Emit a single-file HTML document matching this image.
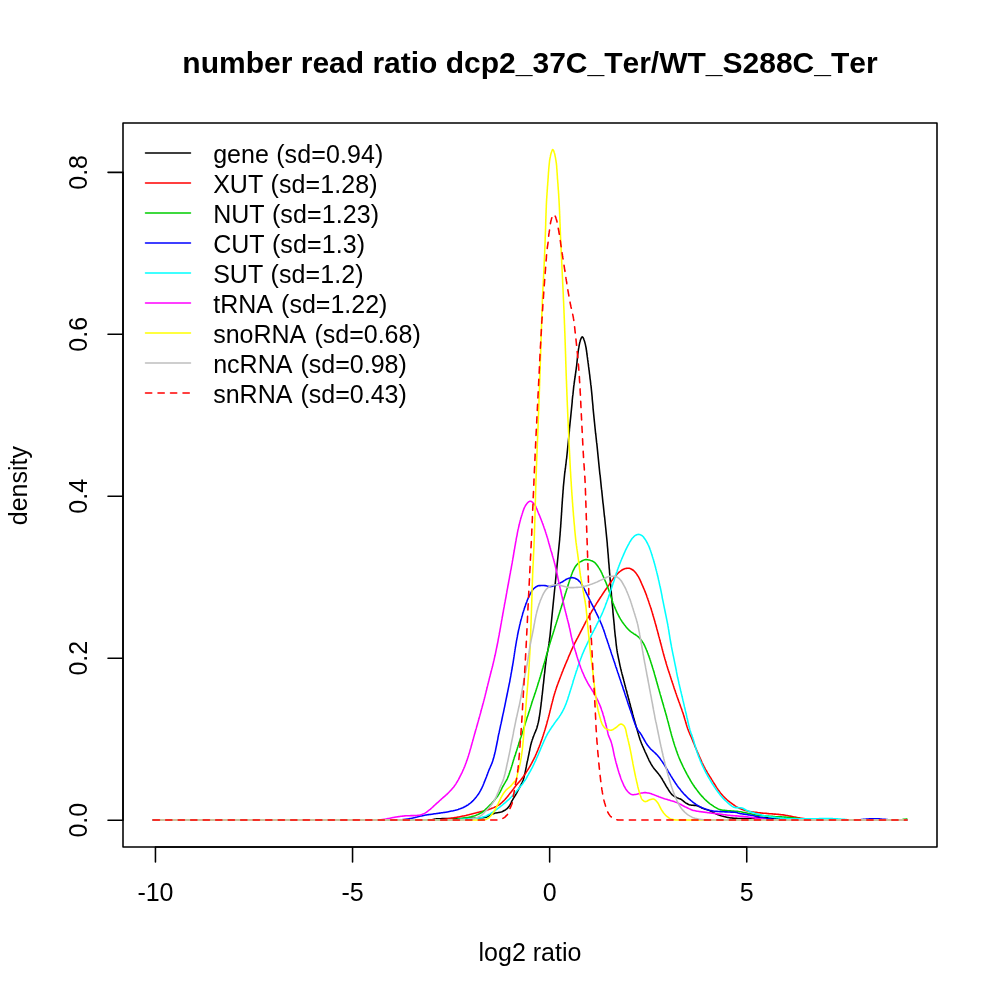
<!DOCTYPE html>
<html lang="en"><head><meta charset="utf-8"><title>number read ratio dcp2_37C_Ter/WT_S288C_Ter</title>
<style>html,body{margin:0;padding:0;background:#fff}body{width:1000px;height:1000px;overflow:hidden}</style></head>
<body>
<svg width="1000" height="1000" viewBox="0 0 1000 1000" style="display:block">
<rect width="1000" height="1000" fill="#fff"/>
<g fill="none" stroke-width="1.56" stroke-linecap="round" stroke-linejoin="round">
<path stroke="#000000" d="M153.2,820.0 L430.1,820.0 L431.1,819.9 L432.1,819.8 L433.1,819.5 L434.1,819.3 L435.1,819.1 L436.1,818.9 L437.0,818.8 L438.0,818.8 L439.0,818.7 L440.0,818.7 L441.0,818.7 L442.0,818.6 L443.0,818.6 L444.0,818.6 L445.0,818.6 L446.0,818.6 L447.0,818.6 L448.0,818.6 L449.0,818.6 L450.0,818.6 L451.0,818.6 L452.0,818.6 L453.0,818.6 L454.0,818.6 L455.0,818.6 L456.0,818.6 L457.0,818.6 L458.0,818.6 L459.0,818.5 L460.0,818.5 L461.0,818.5 L462.0,818.5 L463.0,818.5 L464.0,818.4 L465.0,818.4 L466.0,818.4 L467.0,818.4 L468.0,818.4 L469.0,818.3 L470.0,818.3 L471.0,818.3 L472.1,818.2 L473.1,818.2 L474.1,818.2 L475.1,818.1 L476.1,818.1 L477.1,818.0 L478.1,818.0 L479.1,817.9 L480.1,817.9 L481.1,817.8 L482.1,817.7 L483.1,817.6 L484.1,817.5 L485.0,817.4 L486.0,817.2 L486.9,816.9 L487.8,816.5 L488.7,816.0 L489.6,815.5 L490.5,815.0 L491.4,814.5 L492.3,814.1 L493.2,813.7 L494.2,813.4 L495.1,813.1 L496.1,812.9 L497.1,812.7 L498.1,812.6 L499.1,812.4 L500.1,812.2 L501.0,812.0 L502.0,811.7 L502.9,811.3 L503.8,810.8 L504.7,810.3 L505.5,809.8 L506.3,809.2 L507.1,808.6 L507.8,807.9 L508.5,807.1 L509.1,806.3 L509.7,805.5 L510.2,804.7 L510.6,803.8 L511.1,802.9 L511.5,801.9 L511.9,801.0 L512.4,800.2 L512.9,799.3 L513.4,798.4 L513.9,797.6 L514.5,796.7 L515.0,795.9 L515.5,795.0 L516.0,794.1 L516.5,793.3 L517.0,792.4 L517.4,791.5 L517.9,790.6 L518.4,789.8 L518.8,788.9 L519.3,788.0 L519.8,787.1 L520.2,786.2 L520.7,785.3 L521.2,784.4 L521.6,783.5 L522.1,782.6 L522.5,781.7 L522.9,780.8 L523.2,779.9 L523.5,778.9 L523.8,778.0 L524.1,777.0 L524.3,776.0 L524.5,775.1 L524.7,774.1 L525.0,773.1 L525.2,772.1 L525.4,771.1 L525.6,770.2 L525.8,769.2 L526.0,768.2 L526.2,767.2 L526.4,766.2 L526.5,765.3 L526.7,764.3 L526.9,763.3 L527.1,762.3 L527.3,761.3 L527.6,760.4 L527.8,759.4 L528.0,758.4 L528.2,757.4 L528.4,756.4 L528.6,755.5 L528.8,754.5 L529.0,753.5 L529.2,752.5 L529.4,751.5 L529.6,750.6 L529.8,749.6 L529.9,748.6 L530.2,747.6 L530.4,746.6 L530.6,745.7 L530.8,744.7 L531.1,743.7 L531.4,742.8 L531.6,741.8 L531.9,740.9 L532.2,739.9 L532.6,739.0 L532.9,738.0 L533.2,737.1 L533.6,736.1 L533.9,735.2 L534.3,734.3 L534.7,733.3 L535.1,732.4 L535.5,731.5 L535.9,730.6 L536.2,729.6 L536.6,728.7 L536.9,727.8 L537.2,726.8 L537.4,725.8 L537.7,724.9 L537.9,723.9 L538.2,722.9 L538.4,722.0 L538.6,721.0 L538.8,720.0 L539.0,719.0 L539.2,718.0 L539.3,717.0 L539.5,716.1 L539.6,715.1 L539.8,714.1 L539.9,713.1 L540.1,712.1 L540.2,711.1 L540.3,710.1 L540.5,709.1 L540.6,708.1 L540.7,707.1 L540.9,706.1 L541.0,705.2 L541.1,704.2 L541.2,703.2 L541.3,702.2 L541.5,701.2 L541.6,700.2 L541.7,699.2 L541.8,698.2 L541.9,697.2 L542.0,696.2 L542.1,695.2 L542.3,694.2 L542.4,693.2 L542.5,692.2 L542.6,691.2 L542.7,690.3 L542.8,689.3 L542.9,688.3 L543.0,687.3 L543.1,686.3 L543.2,685.3 L543.3,684.3 L543.5,683.3 L543.6,682.3 L543.7,681.3 L543.8,680.3 L543.9,679.3 L544.0,678.3 L544.1,677.3 L544.2,676.3 L544.3,675.3 L544.4,674.3 L544.6,673.4 L544.7,672.4 L544.8,671.4 L544.9,670.4 L545.0,669.4 L545.1,668.4 L545.2,667.4 L545.3,666.4 L545.4,665.4 L545.6,664.4 L545.7,663.4 L545.8,662.4 L545.9,661.4 L546.1,660.4 L546.2,659.4 L546.3,658.5 L546.5,657.5 L546.6,656.5 L546.8,655.5 L547.0,654.5 L547.2,653.5 L547.4,652.6 L547.6,651.6 L547.8,650.6 L548.0,649.6 L548.2,648.6 L548.4,647.6 L548.5,646.7 L548.7,645.7 L548.8,644.7 L549.0,643.7 L549.1,642.7 L549.2,641.7 L549.4,640.7 L549.5,639.7 L549.6,638.7 L549.7,637.8 L549.9,636.8 L550.0,635.8 L550.1,634.8 L550.2,633.8 L550.3,632.8 L550.4,631.8 L550.5,630.8 L550.6,629.8 L550.7,628.8 L550.8,627.8 L550.9,626.8 L551.0,625.8 L551.1,624.8 L551.2,623.8 L551.3,622.8 L551.4,621.8 L551.5,620.8 L551.6,619.8 L551.7,618.8 L551.8,617.9 L551.9,616.9 L552.0,615.9 L552.1,614.9 L552.2,613.9 L552.3,612.9 L552.4,611.9 L552.5,610.9 L552.6,609.9 L552.7,608.9 L552.8,607.9 L552.9,606.9 L553.0,605.9 L553.1,604.9 L553.2,603.9 L553.3,602.9 L553.4,601.9 L553.5,600.9 L553.6,599.9 L553.7,598.9 L553.8,598.0 L553.9,597.0 L554.0,596.0 L554.1,595.0 L554.2,594.0 L554.3,593.0 L554.4,592.0 L554.5,591.0 L554.6,590.0 L554.7,589.0 L554.8,588.0 L554.9,587.0 L555.0,586.0 L555.1,585.0 L555.2,584.0 L555.3,583.0 L555.4,582.0 L555.5,581.0 L555.6,580.0 L555.7,579.0 L555.8,578.1 L555.9,577.1 L556.0,576.1 L556.1,575.1 L556.2,574.1 L556.3,573.1 L556.4,572.1 L556.5,571.1 L556.6,570.1 L556.7,569.1 L556.8,568.1 L556.9,567.1 L557.0,566.1 L557.1,565.1 L557.2,564.1 L557.3,563.1 L557.4,562.1 L557.5,561.1 L557.6,560.1 L557.7,559.1 L557.8,558.2 L557.9,557.2 L558.0,556.2 L558.1,555.2 L558.2,554.2 L558.3,553.2 L558.4,552.2 L558.5,551.2 L558.6,550.2 L558.7,549.2 L558.8,548.2 L558.9,547.2 L559.0,546.2 L559.1,545.2 L559.2,544.2 L559.3,543.2 L559.4,542.2 L559.5,541.2 L559.6,540.2 L559.7,539.2 L559.7,538.2 L559.8,537.3 L559.9,536.3 L560.0,535.3 L560.1,534.3 L560.1,533.3 L560.2,532.3 L560.3,531.3 L560.4,530.3 L560.4,529.3 L560.5,528.3 L560.6,527.3 L560.7,526.3 L560.7,525.3 L560.8,524.3 L560.9,523.3 L560.9,522.3 L561.0,521.3 L561.1,520.3 L561.1,519.3 L561.2,518.3 L561.3,517.3 L561.3,516.3 L561.4,515.3 L561.5,514.3 L561.5,513.3 L561.6,512.3 L561.7,511.3 L561.7,510.3 L561.8,509.3 L561.8,508.3 L561.9,507.3 L562.0,506.3 L562.0,505.3 L562.1,504.3 L562.2,503.3 L562.2,502.3 L562.3,501.3 L562.4,500.3 L562.4,499.3 L562.5,498.3 L562.6,497.3 L562.7,496.3 L562.7,495.3 L562.8,494.3 L562.9,493.3 L563.0,492.4 L563.0,491.4 L563.1,490.4 L563.2,489.4 L563.3,488.4 L563.3,487.4 L563.4,486.4 L563.5,485.4 L563.6,484.4 L563.7,483.4 L563.8,482.4 L563.9,481.4 L564.0,480.4 L564.1,479.4 L564.2,478.4 L564.3,477.4 L564.4,476.4 L564.5,475.4 L564.6,474.4 L564.7,473.4 L564.8,472.5 L565.0,471.5 L565.1,470.5 L565.2,469.5 L565.4,468.5 L565.5,467.5 L565.6,466.5 L565.7,465.5 L565.9,464.5 L566.0,463.5 L566.1,462.5 L566.2,461.5 L566.3,460.5 L566.4,459.5 L566.6,458.6 L566.7,457.6 L566.8,456.6 L566.9,455.6 L567.0,454.6 L567.1,453.6 L567.2,452.6 L567.3,451.6 L567.4,450.6 L567.5,449.6 L567.6,448.6 L567.7,447.6 L567.8,446.6 L567.9,445.6 L568.0,444.6 L568.1,443.6 L568.2,442.6 L568.3,441.6 L568.4,440.6 L568.5,439.7 L568.6,438.7 L568.7,437.7 L568.8,436.7 L568.9,435.7 L569.0,434.7 L569.1,433.7 L569.2,432.7 L569.3,431.7 L569.4,430.7 L569.4,429.7 L569.5,428.7 L569.6,427.7 L569.7,426.7 L569.8,425.7 L569.9,424.7 L570.0,423.7 L570.1,422.7 L570.2,421.7 L570.3,420.7 L570.4,419.7 L570.5,418.8 L570.6,417.8 L570.7,416.8 L570.8,415.8 L570.9,414.8 L571.0,413.8 L571.1,412.8 L571.2,411.8 L571.3,410.8 L571.4,409.8 L571.5,408.8 L571.6,407.8 L571.7,406.8 L571.8,405.8 L571.9,404.8 L572.0,403.8 L572.1,402.8 L572.2,401.8 L572.2,400.8 L572.3,399.8 L572.4,398.8 L572.5,397.8 L572.6,396.9 L572.7,395.9 L572.9,394.9 L573.0,393.9 L573.1,392.9 L573.2,391.9 L573.3,390.9 L573.4,389.9 L573.5,388.9 L573.6,387.9 L573.7,386.9 L573.8,385.9 L574.0,384.9 L574.1,383.9 L574.2,382.9 L574.4,382.0 L574.5,381.0 L574.6,380.0 L574.8,379.0 L574.9,378.0 L575.1,377.0 L575.2,376.0 L575.4,375.0 L575.5,374.0 L575.6,373.0 L575.8,372.0 L575.9,371.1 L576.0,370.1 L576.2,369.1 L576.3,368.1 L576.4,367.1 L576.6,366.1 L576.7,365.1 L576.8,364.1 L576.9,363.1 L577.0,362.1 L577.1,361.1 L577.2,360.1 L577.3,359.1 L577.4,358.1 L577.5,357.1 L577.6,356.2 L577.7,355.2 L577.8,354.2 L578.0,353.2 L578.1,352.2 L578.2,351.2 L578.4,350.2 L578.5,349.2 L578.7,348.2 L578.9,347.2 L579.0,346.3 L579.2,345.3 L579.4,344.3 L579.6,343.3 L579.8,342.3 L580.1,341.4 L580.4,340.3 L580.8,339.1 L581.3,338.0 L581.8,337.2 L582.3,336.8 L582.7,337.1 L583.2,337.8 L583.7,338.9 L584.1,340.1 L584.5,341.2 L584.8,342.2 L585.0,343.1 L585.3,344.1 L585.5,345.1 L585.7,346.1 L585.9,347.0 L586.1,348.0 L586.2,349.0 L586.4,350.0 L586.5,351.0 L586.7,352.0 L586.8,353.0 L586.9,354.0 L587.1,355.0 L587.2,355.9 L587.3,356.9 L587.5,357.9 L587.6,358.9 L587.7,359.9 L587.9,360.9 L588.0,361.9 L588.1,362.9 L588.3,363.9 L588.4,364.9 L588.5,365.9 L588.6,366.9 L588.8,367.8 L588.9,368.8 L589.0,369.8 L589.2,370.8 L589.3,371.8 L589.4,372.8 L589.5,373.8 L589.7,374.8 L589.8,375.8 L589.9,376.8 L590.0,377.8 L590.1,378.8 L590.3,379.8 L590.4,380.7 L590.5,381.7 L590.6,382.7 L590.7,383.7 L590.8,384.7 L591.0,385.7 L591.1,386.7 L591.2,387.7 L591.3,388.7 L591.4,389.7 L591.5,390.7 L591.6,391.7 L591.7,392.7 L591.8,393.7 L591.9,394.7 L592.0,395.7 L592.1,396.7 L592.2,397.7 L592.2,398.6 L592.3,399.6 L592.4,400.6 L592.5,401.6 L592.6,402.6 L592.7,403.6 L592.8,404.6 L592.9,405.6 L593.0,406.6 L593.0,407.6 L593.1,408.6 L593.2,409.6 L593.3,410.6 L593.4,411.6 L593.5,412.6 L593.6,413.6 L593.7,414.6 L593.8,415.6 L593.9,416.6 L594.0,417.6 L594.1,418.6 L594.2,419.6 L594.3,420.6 L594.4,421.6 L594.5,422.5 L594.6,423.5 L594.7,424.5 L594.8,425.5 L594.9,426.5 L595.0,427.5 L595.1,428.5 L595.2,429.5 L595.3,430.5 L595.4,431.5 L595.5,432.5 L595.6,433.5 L595.8,434.5 L595.9,435.5 L596.0,436.5 L596.1,437.5 L596.2,438.5 L596.3,439.4 L596.4,440.4 L596.5,441.4 L596.6,442.4 L596.8,443.4 L596.9,444.4 L597.0,445.4 L597.1,446.4 L597.2,447.4 L597.3,448.4 L597.4,449.4 L597.5,450.4 L597.6,451.4 L597.7,452.4 L597.8,453.4 L597.9,454.4 L598.0,455.4 L598.1,456.3 L598.2,457.3 L598.3,458.3 L598.4,459.3 L598.5,460.3 L598.6,461.3 L598.7,462.3 L598.8,463.3 L598.9,464.3 L599.0,465.3 L599.1,466.3 L599.2,467.3 L599.3,468.3 L599.4,469.3 L599.5,470.3 L599.6,471.3 L599.7,472.3 L599.8,473.3 L599.9,474.3 L600.1,475.2 L600.2,476.2 L600.3,477.2 L600.4,478.2 L600.5,479.2 L600.6,480.2 L600.7,481.2 L600.8,482.2 L600.9,483.2 L601.0,484.2 L601.1,485.2 L601.2,486.2 L601.3,487.2 L601.4,488.2 L601.5,489.2 L601.7,490.2 L601.8,491.2 L601.9,492.2 L602.0,493.1 L602.1,494.1 L602.2,495.1 L602.3,496.1 L602.4,497.1 L602.5,498.1 L602.6,499.1 L602.7,500.1 L602.8,501.1 L602.9,502.1 L603.0,503.1 L603.2,504.1 L603.3,505.1 L603.4,506.1 L603.5,507.1 L603.6,508.1 L603.7,509.1 L603.8,510.0 L603.9,511.0 L604.0,512.0 L604.1,513.0 L604.2,514.0 L604.3,515.0 L604.4,516.0 L604.6,517.0 L604.7,518.0 L604.8,519.0 L604.9,520.0 L605.0,521.0 L605.1,522.0 L605.2,523.0 L605.3,524.0 L605.4,525.0 L605.5,526.0 L605.6,527.0 L605.7,527.9 L605.8,528.9 L605.9,529.9 L606.0,530.9 L606.1,531.9 L606.2,532.9 L606.3,533.9 L606.4,534.9 L606.5,535.9 L606.6,536.9 L606.7,537.9 L606.8,538.9 L606.9,539.9 L607.0,540.9 L607.1,541.9 L607.2,542.9 L607.3,543.9 L607.3,544.9 L607.4,545.9 L607.5,546.9 L607.6,547.9 L607.7,548.9 L607.8,549.8 L607.8,550.8 L607.9,551.8 L608.0,552.8 L608.1,553.8 L608.2,554.8 L608.3,555.8 L608.3,556.8 L608.4,557.8 L608.5,558.8 L608.6,559.8 L608.6,560.8 L608.7,561.8 L608.8,562.8 L608.9,563.8 L609.0,564.8 L609.1,565.8 L609.1,566.8 L609.2,567.8 L609.3,568.8 L609.4,569.8 L609.5,570.8 L609.5,571.8 L609.6,572.8 L609.7,573.8 L609.8,574.8 L609.9,575.8 L610.0,576.8 L610.0,577.8 L610.1,578.8 L610.2,579.8 L610.3,580.7 L610.4,581.7 L610.4,582.7 L610.5,583.7 L610.6,584.7 L610.7,585.7 L610.8,586.7 L610.9,587.7 L610.9,588.7 L611.0,589.7 L611.1,590.7 L611.2,591.7 L611.3,592.7 L611.4,593.7 L611.4,594.7 L611.5,595.7 L611.6,596.7 L611.7,597.7 L611.8,598.7 L611.9,599.7 L612.0,600.7 L612.0,601.7 L612.1,602.7 L612.2,603.7 L612.3,604.7 L612.4,605.7 L612.5,606.7 L612.6,607.6 L612.7,608.6 L612.8,609.6 L612.9,610.6 L612.9,611.6 L613.0,612.6 L613.1,613.6 L613.2,614.6 L613.3,615.6 L613.4,616.6 L613.5,617.6 L613.6,618.6 L613.7,619.6 L613.8,620.6 L613.9,621.6 L614.0,622.6 L614.1,623.6 L614.2,624.6 L614.3,625.6 L614.4,626.6 L614.4,627.6 L614.5,628.6 L614.6,629.6 L614.7,630.5 L614.8,631.5 L614.9,632.5 L615.0,633.5 L615.1,634.5 L615.2,635.5 L615.3,636.5 L615.5,637.5 L615.6,638.5 L615.7,639.5 L615.8,640.5 L615.9,641.5 L616.0,642.5 L616.1,643.5 L616.2,644.5 L616.3,645.5 L616.5,646.5 L616.6,647.5 L616.7,648.4 L616.9,649.4 L617.0,650.4 L617.2,651.4 L617.3,652.4 L617.5,653.4 L617.7,654.4 L617.9,655.3 L618.1,656.3 L618.3,657.3 L618.5,658.3 L618.7,659.3 L618.9,660.2 L619.1,661.2 L619.3,662.2 L619.5,663.2 L619.7,664.2 L619.9,665.1 L620.1,666.1 L620.4,667.1 L620.6,668.1 L620.8,669.0 L621.1,670.0 L621.3,671.0 L621.5,671.9 L621.8,672.9 L622.0,673.9 L622.3,674.8 L622.5,675.8 L622.8,676.8 L623.0,677.8 L623.3,678.7 L623.6,679.7 L623.8,680.7 L624.1,681.6 L624.3,682.6 L624.6,683.6 L624.8,684.5 L625.1,685.5 L625.3,686.5 L625.6,687.4 L625.8,688.4 L626.1,689.4 L626.4,690.3 L626.6,691.3 L626.9,692.3 L627.1,693.2 L627.4,694.2 L627.7,695.2 L627.9,696.1 L628.2,697.1 L628.4,698.0 L628.7,699.0 L629.0,700.0 L629.2,700.9 L629.5,701.9 L629.7,702.9 L630.0,703.8 L630.2,704.8 L630.5,705.8 L630.7,706.7 L631.0,707.7 L631.3,708.7 L631.5,709.6 L631.8,710.6 L632.0,711.6 L632.3,712.5 L632.5,713.5 L632.8,714.5 L633.1,715.4 L633.3,716.4 L633.6,717.4 L633.9,718.3 L634.1,719.3 L634.4,720.3 L634.7,721.2 L634.9,722.2 L635.2,723.1 L635.5,724.1 L635.8,725.1 L636.0,726.0 L636.3,727.0 L636.6,728.0 L636.9,728.9 L637.2,729.9 L637.4,730.8 L637.7,731.8 L638.0,732.8 L638.3,733.7 L638.5,734.7 L638.8,735.6 L639.1,736.6 L639.4,737.6 L639.7,738.5 L640.0,739.5 L640.4,740.4 L640.7,741.3 L641.1,742.3 L641.4,743.2 L641.8,744.1 L642.2,745.0 L642.6,746.0 L643.0,746.9 L643.4,747.8 L643.8,748.7 L644.2,749.6 L644.6,750.5 L645.0,751.5 L645.4,752.4 L645.9,753.3 L646.3,754.2 L646.7,755.1 L647.1,756.0 L647.5,756.9 L647.9,757.8 L648.4,758.7 L648.8,759.7 L649.2,760.6 L649.7,761.5 L650.2,762.3 L650.6,763.2 L651.1,764.1 L651.6,764.9 L652.1,765.8 L652.7,766.6 L653.2,767.4 L653.8,768.2 L654.4,769.0 L655.1,769.8 L655.7,770.6 L656.4,771.3 L657.0,772.1 L657.7,772.9 L658.3,773.6 L658.9,774.4 L659.6,775.2 L660.1,776.0 L660.7,776.9 L661.2,777.7 L661.8,778.5 L662.3,779.4 L662.8,780.3 L663.3,781.1 L663.8,782.0 L664.3,782.9 L664.8,783.7 L665.3,784.6 L665.8,785.5 L666.3,786.3 L666.8,787.2 L667.4,788.0 L667.9,788.9 L668.4,789.7 L669.0,790.6 L669.5,791.5 L670.1,792.3 L670.7,793.1 L671.3,793.9 L672.0,794.6 L672.7,795.2 L673.5,795.8 L674.3,796.3 L675.2,796.8 L676.1,797.3 L677.0,797.7 L678.0,798.1 L678.9,798.5 L679.9,798.8 L680.8,799.2 L681.6,799.7 L682.4,800.3 L683.2,800.9 L684.0,801.6 L684.7,802.2 L685.6,802.8 L686.4,803.3 L687.3,803.8 L688.2,804.3 L689.2,804.7 L690.1,804.9 L691.1,805.1 L692.1,805.2 L693.1,805.3 L694.1,805.4 L695.1,805.4 L696.1,805.5 L697.0,805.7 L698.0,806.1 L698.9,806.5 L699.8,806.9 L700.7,807.4 L701.6,807.9 L702.5,808.2 L703.5,808.6 L704.4,808.9 L705.4,809.2 L706.3,809.5 L707.3,809.8 L708.2,810.1 L709.2,810.4 L710.1,810.8 L711.0,811.2 L711.9,811.7 L712.8,812.2 L713.6,812.6 L714.5,813.1 L715.4,813.6 L716.3,814.0 L717.2,814.4 L718.2,814.7 L719.1,815.1 L720.1,815.4 L721.0,815.8 L722.0,816.1 L722.9,816.3 L723.9,816.6 L724.9,816.8 L725.8,817.0 L726.8,817.2 L727.8,817.4 L728.8,817.6 L729.8,817.7 L730.8,817.9 L731.8,818.0 L732.8,818.1 L733.8,818.3 L734.8,818.3 L735.8,818.4 L736.8,818.4 L737.8,818.5 L738.8,818.5 L739.8,818.5 L740.8,818.5 L741.8,818.5 L742.8,818.5 L743.8,818.5 L744.8,818.5 L745.8,818.5 L746.8,818.5 L747.8,818.5 L748.8,818.5 L749.8,818.5 L750.8,818.5 L751.8,818.4 L752.8,818.3 L753.7,818.2 L754.7,818.1 L755.7,818.0 L756.7,817.9 L757.7,817.9 L758.7,817.8 L759.7,817.8 L760.7,817.8 L761.7,817.8 L762.7,817.8 L763.7,817.8 L764.7,817.9 L765.7,817.9 L766.7,817.9 L767.7,817.9 L768.7,818.0 L769.7,818.0 L770.7,818.0 L771.7,818.1 L772.7,818.1 L773.7,818.2 L774.7,818.2 L775.7,818.3 L776.7,818.4 L777.7,818.4 L778.7,818.5 L779.7,818.6 L780.7,818.7 L781.7,818.7 L782.7,818.8 L783.7,818.9 L784.7,819.0 L785.7,819.1 L786.7,819.2 L787.7,819.3 L788.7,819.4 L789.7,819.5 L790.7,819.6 L791.7,819.6 L792.7,819.7 L793.7,819.8 L794.7,819.9 L795.7,820.0 L796.7,820.0 L906.9,820.0"/>
<path stroke="#FF0000" d="M153.2,820.0 L436.1,820.0 L437.1,820.0 L438.1,819.9 L439.1,819.9 L440.1,819.8 L441.1,819.7 L442.1,819.6 L443.1,819.5 L444.1,819.4 L445.1,819.3 L446.1,819.1 L447.1,819.0 L448.1,818.8 L449.1,818.6 L450.1,818.5 L451.0,818.3 L452.0,818.1 L453.0,818.0 L454.0,817.8 L455.0,817.6 L456.0,817.5 L457.0,817.3 L457.9,817.1 L458.9,816.9 L459.9,816.7 L460.9,816.5 L461.9,816.3 L462.8,816.1 L463.8,815.9 L464.8,815.7 L465.8,815.5 L466.7,815.2 L467.7,815.0 L468.7,814.8 L469.7,814.5 L470.6,814.3 L471.6,814.0 L472.6,813.8 L473.5,813.5 L474.5,813.3 L475.5,813.0 L476.4,812.8 L477.4,812.5 L478.4,812.3 L479.4,812.1 L480.3,811.8 L481.3,811.6 L482.3,811.4 L483.2,811.1 L484.2,810.9 L485.2,810.6 L486.1,810.3 L487.1,810.0 L488.0,809.7 L489.0,809.4 L489.9,809.0 L490.9,808.7 L491.8,808.3 L492.7,808.0 L493.7,807.6 L494.6,807.2 L495.5,806.8 L496.4,806.4 L497.3,805.9 L498.1,805.4 L499.0,804.9 L499.8,804.3 L500.6,803.7 L501.3,803.0 L502.1,802.3 L502.8,801.6 L503.6,800.9 L504.3,800.2 L505.0,799.5 L505.6,798.8 L506.3,798.0 L506.9,797.3 L507.6,796.5 L508.2,795.7 L508.8,794.9 L509.4,794.1 L510.0,793.3 L510.7,792.6 L511.3,791.8 L511.9,791.0 L512.5,790.2 L513.1,789.4 L513.7,788.6 L514.3,787.8 L514.9,787.0 L515.5,786.2 L516.1,785.4 L516.8,784.6 L517.4,783.9 L518.1,783.1 L518.7,782.4 L519.4,781.6 L520.1,780.9 L520.7,780.1 L521.3,779.3 L521.9,778.5 L522.5,777.7 L523.1,776.9 L523.7,776.1 L524.2,775.3 L524.8,774.4 L525.4,773.6 L525.9,772.8 L526.4,771.9 L527.0,771.1 L527.5,770.2 L528.1,769.4 L528.6,768.5 L529.1,767.7 L529.6,766.8 L530.1,766.0 L530.6,765.1 L531.1,764.2 L531.6,763.3 L532.0,762.5 L532.5,761.6 L533.0,760.7 L533.4,759.8 L533.9,758.9 L534.3,758.0 L534.8,757.1 L535.2,756.2 L535.6,755.3 L536.0,754.4 L536.4,753.5 L536.8,752.5 L537.2,751.6 L537.6,750.7 L538.0,749.8 L538.3,748.8 L538.7,747.9 L539.1,747.0 L539.4,746.1 L539.8,745.1 L540.1,744.2 L540.5,743.2 L540.8,742.3 L541.2,741.4 L541.5,740.4 L541.8,739.5 L542.2,738.5 L542.5,737.6 L542.8,736.6 L543.1,735.7 L543.4,734.7 L543.7,733.8 L544.0,732.8 L544.3,731.9 L544.6,730.9 L544.9,730.0 L545.2,729.0 L545.5,728.0 L545.8,727.1 L546.1,726.1 L546.3,725.2 L546.6,724.2 L546.9,723.2 L547.1,722.3 L547.4,721.3 L547.6,720.3 L547.9,719.4 L548.2,718.4 L548.4,717.4 L548.7,716.5 L548.9,715.5 L549.2,714.5 L549.4,713.6 L549.7,712.6 L549.9,711.6 L550.1,710.7 L550.4,709.7 L550.6,708.7 L550.9,707.7 L551.1,706.8 L551.3,705.8 L551.6,704.8 L551.8,703.9 L552.1,702.9 L552.3,701.9 L552.6,701.0 L552.8,700.0 L553.1,699.0 L553.3,698.0 L553.6,697.1 L553.8,696.1 L554.1,695.2 L554.4,694.2 L554.7,693.2 L555.0,692.3 L555.3,691.3 L555.6,690.4 L555.9,689.4 L556.2,688.5 L556.5,687.5 L556.9,686.6 L557.2,685.6 L557.5,684.7 L557.9,683.8 L558.2,682.8 L558.6,681.9 L558.9,681.0 L559.3,680.0 L559.6,679.1 L560.0,678.1 L560.3,677.2 L560.7,676.3 L561.1,675.3 L561.4,674.4 L561.8,673.5 L562.1,672.5 L562.5,671.6 L562.9,670.7 L563.2,669.8 L563.6,668.8 L564.0,667.9 L564.4,667.0 L564.8,666.1 L565.1,665.1 L565.5,664.2 L565.9,663.3 L566.3,662.4 L566.7,661.4 L567.1,660.5 L567.5,659.6 L567.9,658.7 L568.2,657.8 L568.6,656.8 L569.0,655.9 L569.4,655.0 L569.8,654.1 L570.2,653.1 L570.6,652.2 L571.0,651.3 L571.4,650.4 L571.8,649.5 L572.2,648.6 L572.6,647.7 L573.0,646.8 L573.5,645.9 L573.9,645.0 L574.3,644.1 L574.8,643.2 L575.2,642.3 L575.7,641.4 L576.2,640.5 L576.6,639.6 L577.1,638.7 L577.6,637.8 L578.0,637.0 L578.5,636.1 L579.0,635.2 L579.4,634.3 L579.9,633.4 L580.3,632.5 L580.8,631.6 L581.3,630.7 L581.7,629.8 L582.2,629.0 L582.6,628.1 L583.1,627.2 L583.5,626.3 L584.0,625.4 L584.4,624.5 L584.9,623.6 L585.3,622.7 L585.8,621.8 L586.3,620.9 L586.7,620.1 L587.2,619.2 L587.7,618.3 L588.2,617.4 L588.7,616.6 L589.2,615.7 L589.7,614.8 L590.2,614.0 L590.7,613.1 L591.2,612.3 L591.7,611.4 L592.2,610.5 L592.8,609.7 L593.3,608.8 L593.8,608.0 L594.3,607.1 L594.8,606.3 L595.4,605.4 L595.9,604.6 L596.4,603.7 L596.9,602.9 L597.5,602.0 L598.0,601.2 L598.6,600.3 L599.1,599.5 L599.6,598.7 L600.2,597.8 L600.7,597.0 L601.3,596.1 L601.8,595.3 L602.4,594.5 L602.9,593.6 L603.5,592.8 L604.0,592.0 L604.6,591.1 L605.2,590.3 L605.7,589.5 L606.3,588.7 L606.9,587.9 L607.5,587.1 L608.1,586.2 L608.6,585.4 L609.2,584.6 L609.7,583.7 L610.3,582.9 L610.9,582.1 L611.4,581.2 L612.0,580.4 L612.6,579.6 L613.2,578.8 L613.8,578.0 L614.4,577.2 L615.0,576.5 L615.7,575.7 L616.4,574.9 L617.0,574.2 L617.7,573.5 L618.5,572.7 L619.2,572.1 L620.0,571.5 L620.8,570.9 L621.6,570.3 L622.5,569.8 L623.4,569.3 L624.3,568.9 L625.2,568.6 L626.2,568.4 L627.2,568.3 L628.2,568.2 L629.2,568.3 L630.2,568.6 L631.1,569.0 L632.0,569.5 L632.8,570.0 L633.6,570.5 L634.3,571.2 L635.0,572.0 L635.7,572.8 L636.3,573.6 L636.9,574.4 L637.4,575.3 L638.0,576.1 L638.5,576.9 L639.0,577.8 L639.4,578.7 L639.9,579.6 L640.3,580.5 L640.7,581.4 L641.1,582.4 L641.5,583.3 L641.9,584.2 L642.3,585.1 L642.7,586.0 L643.1,586.9 L643.5,587.9 L643.9,588.8 L644.3,589.7 L644.7,590.6 L645.0,591.6 L645.4,592.5 L645.8,593.4 L646.1,594.4 L646.5,595.3 L646.8,596.3 L647.1,597.2 L647.5,598.1 L647.8,599.1 L648.1,600.0 L648.5,601.0 L648.8,601.9 L649.1,602.9 L649.4,603.8 L649.7,604.8 L650.1,605.7 L650.4,606.7 L650.7,607.6 L651.0,608.6 L651.3,609.5 L651.6,610.5 L651.9,611.4 L652.2,612.4 L652.5,613.3 L652.7,614.3 L653.0,615.3 L653.3,616.2 L653.6,617.2 L653.9,618.1 L654.1,619.1 L654.4,620.1 L654.7,621.0 L655.0,622.0 L655.2,623.0 L655.5,623.9 L655.8,624.9 L656.0,625.8 L656.3,626.8 L656.6,627.8 L656.8,628.7 L657.1,629.7 L657.4,630.7 L657.6,631.6 L657.9,632.6 L658.1,633.6 L658.4,634.5 L658.6,635.5 L658.9,636.5 L659.2,637.4 L659.4,638.4 L659.7,639.4 L659.9,640.3 L660.2,641.3 L660.4,642.3 L660.7,643.2 L661.0,644.2 L661.2,645.2 L661.5,646.1 L661.7,647.1 L662.0,648.1 L662.2,649.0 L662.5,650.0 L662.7,651.0 L663.0,651.9 L663.2,652.9 L663.5,653.9 L663.7,654.8 L664.0,655.8 L664.3,656.8 L664.6,657.7 L664.8,658.7 L665.1,659.6 L665.4,660.6 L665.7,661.6 L666.0,662.5 L666.2,663.5 L666.5,664.4 L666.8,665.4 L667.1,666.3 L667.4,667.3 L667.7,668.3 L668.0,669.2 L668.3,670.2 L668.6,671.1 L668.9,672.1 L669.3,673.0 L669.6,674.0 L669.9,674.9 L670.2,675.9 L670.5,676.8 L670.8,677.8 L671.1,678.7 L671.4,679.7 L671.7,680.6 L672.0,681.6 L672.3,682.5 L672.7,683.5 L673.0,684.4 L673.3,685.4 L673.6,686.3 L673.9,687.3 L674.2,688.2 L674.5,689.2 L674.9,690.1 L675.2,691.1 L675.5,692.0 L675.8,693.0 L676.2,693.9 L676.5,694.9 L676.8,695.8 L677.1,696.7 L677.5,697.7 L677.8,698.6 L678.1,699.6 L678.5,700.5 L678.8,701.5 L679.2,702.4 L679.5,703.3 L679.9,704.3 L680.2,705.2 L680.5,706.2 L680.9,707.1 L681.2,708.0 L681.6,709.0 L681.9,709.9 L682.2,710.9 L682.5,711.8 L682.9,712.8 L683.2,713.7 L683.5,714.7 L683.8,715.6 L684.0,716.6 L684.3,717.5 L684.6,718.5 L684.9,719.5 L685.2,720.4 L685.5,721.4 L685.7,722.3 L686.0,723.3 L686.3,724.3 L686.6,725.2 L686.9,726.2 L687.2,727.1 L687.5,728.1 L687.8,729.0 L688.2,729.9 L688.5,730.9 L688.9,731.8 L689.3,732.7 L689.7,733.6 L690.1,734.6 L690.5,735.5 L690.9,736.4 L691.3,737.3 L691.7,738.2 L692.1,739.2 L692.5,740.1 L692.8,741.0 L693.2,741.9 L693.6,742.9 L694.0,743.8 L694.4,744.7 L694.7,745.6 L695.1,746.6 L695.5,747.5 L695.9,748.4 L696.3,749.3 L696.7,750.2 L697.1,751.2 L697.5,752.1 L697.9,753.0 L698.3,753.9 L698.7,754.8 L699.1,755.8 L699.5,756.7 L699.9,757.6 L700.3,758.5 L700.7,759.4 L701.1,760.3 L701.5,761.2 L701.9,762.2 L702.3,763.1 L702.8,764.0 L703.2,764.9 L703.7,765.8 L704.1,766.6 L704.6,767.5 L705.0,768.4 L705.5,769.3 L706.0,770.2 L706.5,771.0 L707.0,771.9 L707.5,772.8 L708.0,773.6 L708.5,774.5 L709.1,775.3 L709.6,776.2 L710.1,777.0 L710.7,777.9 L711.2,778.7 L711.7,779.6 L712.3,780.4 L712.8,781.3 L713.3,782.1 L713.8,783.0 L714.3,783.8 L714.9,784.7 L715.4,785.5 L715.9,786.4 L716.5,787.2 L717.0,788.1 L717.6,788.9 L718.1,789.7 L718.7,790.5 L719.3,791.3 L719.9,792.1 L720.5,792.9 L721.2,793.7 L721.8,794.4 L722.5,795.2 L723.1,796.0 L723.8,796.7 L724.5,797.4 L725.2,798.1 L726.0,798.8 L726.7,799.5 L727.4,800.1 L728.2,800.8 L729.0,801.4 L729.8,802.0 L730.5,802.6 L731.4,803.2 L732.2,803.8 L733.0,804.4 L733.8,805.0 L734.7,805.5 L735.5,806.1 L736.3,806.6 L737.2,807.1 L738.1,807.6 L738.9,808.1 L739.8,808.5 L740.8,808.9 L741.7,809.3 L742.6,809.6 L743.6,809.9 L744.6,810.2 L745.5,810.5 L746.5,810.7 L747.5,811.0 L748.5,811.2 L749.4,811.4 L750.4,811.6 L751.4,811.7 L752.4,811.9 L753.4,812.0 L754.4,812.2 L755.4,812.3 L756.4,812.4 L757.3,812.5 L758.3,812.7 L759.3,812.8 L760.3,812.9 L761.3,813.0 L762.3,813.1 L763.3,813.2 L764.3,813.3 L765.3,813.3 L766.3,813.4 L767.3,813.5 L768.3,813.6 L769.3,813.7 L770.3,813.8 L771.3,813.8 L772.3,813.9 L773.3,814.0 L774.3,814.1 L775.3,814.1 L776.3,814.2 L777.3,814.3 L778.3,814.4 L779.3,814.5 L780.3,814.6 L781.3,814.7 L782.2,814.8 L783.2,814.9 L784.2,815.0 L785.2,815.2 L786.2,815.4 L787.2,815.6 L788.2,815.8 L789.1,816.0 L790.1,816.1 L791.1,816.3 L792.1,816.5 L793.1,816.7 L794.0,816.9 L795.0,817.1 L796.0,817.3 L797.0,817.5 L798.0,817.7 L799.0,817.8 L800.0,818.0 L800.9,818.2 L801.9,818.3 L802.9,818.5 L803.9,818.6 L804.9,818.7 L805.9,818.8 L806.9,818.9 L807.9,819.0 L808.9,819.1 L809.9,819.2 L810.9,819.3 L811.9,819.4 L812.9,819.5 L813.9,819.6 L814.9,819.7 L815.9,819.8 L816.9,819.9 L817.8,819.9 L818.8,820.0 L819.8,820.0 L906.9,820.0"/>
<path stroke="#00CD00" d="M153.2,820.0 L447.1,820.0 L448.1,820.0 L449.1,819.9 L450.1,819.8 L451.1,819.7 L452.1,819.6 L453.1,819.5 L454.1,819.4 L455.1,819.3 L456.1,819.2 L457.1,819.1 L458.1,818.9 L459.1,818.8 L460.1,818.7 L461.1,818.6 L462.1,818.4 L463.1,818.3 L464.1,818.1 L465.0,818.0 L466.0,817.8 L467.0,817.6 L468.0,817.4 L469.0,817.2 L470.0,817.0 L470.9,816.8 L471.9,816.5 L472.9,816.2 L473.8,816.0 L474.8,815.7 L475.7,815.4 L476.6,815.0 L477.6,814.6 L478.5,814.2 L479.4,813.8 L480.3,813.3 L481.2,812.8 L482.0,812.3 L482.9,811.8 L483.6,811.2 L484.4,810.5 L485.1,809.8 L485.8,809.1 L486.6,808.4 L487.3,807.7 L488.0,807.0 L488.7,806.3 L489.4,805.6 L490.1,804.9 L490.8,804.2 L491.5,803.4 L492.2,802.7 L492.8,801.9 L493.5,801.2 L494.2,800.4 L494.8,799.7 L495.5,798.9 L496.1,798.1 L496.7,797.4 L497.3,796.6 L497.9,795.7 L498.4,794.9 L498.9,794.1 L499.4,793.2 L499.9,792.3 L500.4,791.4 L500.8,790.5 L501.3,789.6 L501.7,788.7 L502.1,787.8 L502.6,786.9 L503.1,786.0 L503.6,785.2 L504.1,784.3 L504.6,783.4 L505.1,782.6 L505.6,781.7 L506.1,780.9 L506.6,780.0 L507.1,779.1 L507.5,778.2 L507.9,777.3 L508.3,776.4 L508.6,775.4 L509.0,774.5 L509.3,773.6 L509.6,772.6 L509.9,771.6 L510.2,770.7 L510.6,769.7 L510.9,768.8 L511.2,767.8 L511.5,766.9 L511.8,765.9 L512.1,765.0 L512.4,764.0 L512.7,763.1 L512.9,762.1 L513.2,761.2 L513.5,760.2 L513.8,759.2 L514.1,758.3 L514.4,757.3 L514.7,756.4 L515.1,755.4 L515.4,754.5 L515.7,753.5 L516.0,752.6 L516.3,751.6 L516.6,750.7 L516.9,749.7 L517.2,748.8 L517.5,747.8 L517.8,746.9 L518.1,745.9 L518.4,745.0 L518.7,744.0 L519.0,743.1 L519.3,742.1 L519.6,741.1 L519.9,740.2 L520.2,739.2 L520.5,738.3 L520.9,737.3 L521.2,736.4 L521.5,735.4 L521.8,734.5 L522.1,733.5 L522.4,732.6 L522.7,731.6 L523.0,730.7 L523.3,729.7 L523.6,728.8 L523.9,727.8 L524.2,726.9 L524.5,725.9 L524.8,725.0 L525.1,724.0 L525.4,723.1 L525.7,722.1 L526.0,721.1 L526.3,720.2 L526.6,719.2 L526.9,718.3 L527.2,717.3 L527.6,716.4 L527.9,715.4 L528.2,714.5 L528.5,713.5 L528.8,712.6 L529.1,711.6 L529.4,710.7 L529.7,709.7 L530.0,708.8 L530.3,707.8 L530.6,706.9 L530.9,705.9 L531.2,705.0 L531.5,704.0 L531.8,703.0 L532.1,702.1 L532.4,701.1 L532.7,700.2 L533.0,699.2 L533.4,698.3 L533.7,697.3 L534.0,696.4 L534.3,695.5 L534.6,694.5 L535.0,693.6 L535.3,692.6 L535.6,691.7 L535.9,690.7 L536.2,689.8 L536.5,688.8 L536.8,687.9 L537.1,686.9 L537.4,686.0 L537.7,685.0 L538.0,684.0 L538.3,683.1 L538.6,682.1 L538.9,681.2 L539.2,680.2 L539.5,679.3 L539.8,678.3 L540.1,677.3 L540.4,676.4 L540.6,675.4 L540.9,674.5 L541.2,673.5 L541.5,672.6 L541.8,671.6 L542.1,670.6 L542.3,669.7 L542.6,668.7 L542.9,667.8 L543.2,666.8 L543.5,665.8 L543.7,664.9 L544.0,663.9 L544.3,663.0 L544.6,662.0 L544.9,661.0 L545.1,660.1 L545.4,659.1 L545.7,658.1 L545.9,657.2 L546.2,656.2 L546.5,655.3 L546.7,654.3 L547.0,653.3 L547.3,652.4 L547.6,651.4 L547.8,650.4 L548.1,649.5 L548.4,648.5 L548.6,647.6 L548.9,646.6 L549.2,645.6 L549.5,644.7 L549.8,643.7 L550.1,642.8 L550.4,641.8 L550.7,640.9 L551.0,639.9 L551.3,638.9 L551.6,638.0 L551.9,637.0 L552.2,636.1 L552.5,635.1 L552.8,634.2 L553.1,633.2 L553.4,632.3 L553.7,631.3 L554.0,630.4 L554.3,629.4 L554.6,628.5 L554.9,627.5 L555.2,626.6 L555.5,625.6 L555.8,624.6 L556.1,623.7 L556.4,622.7 L556.7,621.8 L557.0,620.8 L557.3,619.9 L557.6,618.9 L557.9,618.0 L558.2,617.0 L558.5,616.1 L558.8,615.1 L559.1,614.1 L559.4,613.2 L559.7,612.2 L560.0,611.3 L560.3,610.3 L560.6,609.4 L560.9,608.4 L561.2,607.5 L561.5,606.5 L561.8,605.6 L562.1,604.6 L562.4,603.6 L562.7,602.7 L563.0,601.7 L563.2,600.8 L563.5,599.8 L563.8,598.9 L564.1,597.9 L564.4,597.0 L564.7,596.0 L565.0,595.0 L565.3,594.1 L565.6,593.1 L565.9,592.2 L566.2,591.2 L566.5,590.3 L566.8,589.3 L567.1,588.4 L567.4,587.4 L567.7,586.5 L568.0,585.5 L568.3,584.6 L568.6,583.6 L568.9,582.6 L569.2,581.7 L569.5,580.7 L569.8,579.8 L570.1,578.8 L570.5,577.9 L570.8,576.9 L571.1,576.0 L571.4,575.0 L571.8,574.1 L572.1,573.2 L572.5,572.2 L572.9,571.3 L573.3,570.4 L573.8,569.5 L574.2,568.6 L574.7,567.7 L575.2,566.8 L575.8,566.0 L576.4,565.2 L577.0,564.5 L577.7,563.8 L578.5,563.1 L579.3,562.5 L580.1,561.9 L581.0,561.5 L581.9,561.0 L582.8,560.5 L583.8,560.1 L584.8,559.8 L585.7,559.6 L586.7,559.6 L587.7,559.7 L588.7,559.9 L589.7,560.1 L590.7,560.5 L591.7,560.8 L592.6,561.2 L593.4,561.6 L594.1,562.1 L594.9,562.7 L595.6,563.4 L596.3,564.2 L596.9,565.1 L597.6,565.9 L598.2,566.8 L598.7,567.6 L599.3,568.4 L599.8,569.3 L600.3,570.1 L600.8,571.0 L601.2,571.9 L601.7,572.8 L602.1,573.7 L602.5,574.7 L602.9,575.6 L603.3,576.5 L603.7,577.4 L604.1,578.3 L604.5,579.3 L604.9,580.2 L605.3,581.1 L605.7,582.0 L606.1,582.9 L606.4,583.9 L606.8,584.8 L607.2,585.7 L607.5,586.7 L607.9,587.6 L608.2,588.6 L608.6,589.5 L608.9,590.4 L609.2,591.4 L609.5,592.3 L609.9,593.3 L610.2,594.2 L610.5,595.2 L610.8,596.1 L611.1,597.1 L611.4,598.1 L611.7,599.0 L612.0,600.0 L612.3,600.9 L612.6,601.8 L612.9,602.8 L613.3,603.7 L613.7,604.7 L614.0,605.6 L614.4,606.5 L614.8,607.4 L615.2,608.4 L615.6,609.3 L616.0,610.2 L616.4,611.1 L616.8,612.0 L617.2,612.9 L617.7,613.8 L618.1,614.7 L618.6,615.6 L619.0,616.5 L619.5,617.4 L620.0,618.2 L620.5,619.1 L621.0,619.9 L621.6,620.8 L622.1,621.6 L622.7,622.5 L623.3,623.3 L623.9,624.1 L624.5,624.9 L625.1,625.6 L625.7,626.4 L626.4,627.2 L627.0,628.0 L627.7,628.7 L628.4,629.5 L629.1,630.2 L629.8,630.8 L630.6,631.5 L631.4,632.1 L632.2,632.7 L633.0,633.2 L633.9,633.8 L634.7,634.3 L635.6,634.8 L636.4,635.4 L637.2,636.0 L638.0,636.6 L638.7,637.3 L639.4,638.0 L640.1,638.7 L640.7,639.5 L641.4,640.3 L642.0,641.1 L642.5,642.0 L643.1,642.8 L643.6,643.6 L644.0,644.5 L644.5,645.4 L644.9,646.3 L645.3,647.2 L645.7,648.1 L646.1,649.0 L646.5,650.0 L646.9,650.9 L647.3,651.9 L647.6,652.8 L648.0,653.7 L648.3,654.7 L648.7,655.6 L649.0,656.5 L649.3,657.5 L649.7,658.4 L650.0,659.4 L650.3,660.3 L650.6,661.3 L650.9,662.2 L651.2,663.2 L651.5,664.1 L651.8,665.1 L652.1,666.1 L652.4,667.0 L652.7,668.0 L653.0,668.9 L653.3,669.9 L653.6,670.8 L653.9,671.8 L654.2,672.8 L654.4,673.7 L654.7,674.7 L655.0,675.6 L655.2,676.6 L655.5,677.6 L655.8,678.5 L656.1,679.5 L656.3,680.5 L656.6,681.4 L656.9,682.4 L657.1,683.3 L657.4,684.3 L657.7,685.3 L658.0,686.2 L658.2,687.2 L658.5,688.2 L658.8,689.1 L659.1,690.1 L659.3,691.0 L659.6,692.0 L659.9,693.0 L660.1,693.9 L660.4,694.9 L660.7,695.8 L661.0,696.8 L661.2,697.8 L661.5,698.7 L661.8,699.7 L662.1,700.7 L662.3,701.6 L662.6,702.6 L662.9,703.5 L663.2,704.5 L663.5,705.5 L663.7,706.4 L664.0,707.4 L664.3,708.3 L664.6,709.3 L664.8,710.3 L665.1,711.2 L665.4,712.2 L665.7,713.1 L665.9,714.1 L666.2,715.1 L666.5,716.0 L666.8,717.0 L667.0,718.0 L667.3,718.9 L667.5,719.9 L667.8,720.9 L668.1,721.8 L668.3,722.8 L668.6,723.8 L668.8,724.7 L669.1,725.7 L669.3,726.7 L669.6,727.6 L669.8,728.6 L670.1,729.6 L670.3,730.5 L670.6,731.5 L670.9,732.5 L671.1,733.4 L671.4,734.4 L671.6,735.4 L671.9,736.3 L672.2,737.3 L672.5,738.2 L672.8,739.2 L673.0,740.2 L673.3,741.1 L673.6,742.1 L673.9,743.0 L674.2,744.0 L674.5,744.9 L674.8,745.9 L675.1,746.8 L675.5,747.8 L675.8,748.7 L676.1,749.7 L676.4,750.6 L676.8,751.6 L677.1,752.5 L677.4,753.5 L677.8,754.4 L678.1,755.3 L678.5,756.3 L678.9,757.2 L679.2,758.1 L679.6,759.0 L680.0,759.9 L680.4,760.9 L680.8,761.8 L681.2,762.7 L681.7,763.6 L682.1,764.5 L682.5,765.4 L682.9,766.3 L683.4,767.2 L683.8,768.1 L684.3,769.0 L684.7,769.9 L685.2,770.8 L685.6,771.7 L686.1,772.6 L686.6,773.5 L687.0,774.3 L687.5,775.2 L688.0,776.1 L688.5,777.0 L689.0,777.9 L689.5,778.7 L690.0,779.6 L690.5,780.5 L691.0,781.3 L691.5,782.2 L692.0,783.0 L692.6,783.9 L693.1,784.7 L693.7,785.5 L694.2,786.3 L694.8,787.2 L695.4,788.0 L696.0,788.8 L696.6,789.6 L697.2,790.4 L697.8,791.2 L698.4,792.0 L699.0,792.8 L699.6,793.6 L700.3,794.4 L700.9,795.1 L701.6,795.9 L702.3,796.6 L703.0,797.3 L703.6,798.0 L704.3,798.7 L705.0,799.5 L705.8,800.2 L706.5,800.8 L707.3,801.5 L708.0,802.2 L708.8,802.8 L709.6,803.5 L710.4,804.1 L711.2,804.6 L712.0,805.2 L712.8,805.7 L713.7,806.3 L714.5,806.8 L715.4,807.4 L716.3,807.9 L717.2,808.4 L718.1,808.9 L719.0,809.3 L720.0,809.6 L720.9,809.9 L721.8,810.0 L722.8,810.2 L723.8,810.3 L724.7,810.4 L725.7,810.5 L726.7,810.6 L727.7,810.7 L728.7,810.8 L729.7,810.9 L730.7,810.9 L731.7,811.0 L732.7,811.1 L733.8,811.1 L734.8,811.2 L735.8,811.3 L736.8,811.4 L737.8,811.4 L738.8,811.6 L739.8,811.7 L740.8,811.8 L741.8,812.0 L742.7,812.2 L743.7,812.4 L744.7,812.6 L745.7,812.8 L746.7,813.0 L747.6,813.2 L748.6,813.4 L749.6,813.6 L750.6,813.8 L751.5,814.1 L752.5,814.3 L753.5,814.5 L754.5,814.7 L755.5,814.9 L756.4,815.1 L757.4,815.2 L758.4,815.3 L759.4,815.4 L760.4,815.5 L761.4,815.6 L762.4,815.7 L763.4,815.7 L764.4,815.8 L765.4,815.9 L766.4,816.0 L767.4,816.0 L768.4,816.1 L769.4,816.2 L770.4,816.3 L771.4,816.4 L772.4,816.4 L773.4,816.5 L774.4,816.6 L775.4,816.7 L776.4,816.7 L777.4,816.8 L778.4,816.8 L779.4,816.9 L780.4,816.9 L781.4,816.9 L782.4,817.0 L783.4,817.0 L784.4,817.1 L785.4,817.1 L786.4,817.2 L787.4,817.3 L788.3,817.4 L789.3,817.5 L790.3,817.6 L791.3,817.7 L792.3,817.8 L793.3,817.9 L794.3,818.0 L795.3,818.1 L796.3,818.3 L797.3,818.4 L798.3,818.5 L799.3,818.6 L800.3,818.8 L801.3,818.9 L802.3,819.0 L803.2,819.1 L804.2,819.3 L805.2,819.4 L806.2,819.6 L807.2,819.8 L808.2,819.9 L809.2,820.0 L810.2,820.0 L896.2,820.0 L897.2,820.0 L898.2,819.9 L899.2,819.9 L900.2,819.8 L901.2,819.7 L902.2,819.6 L903.2,819.4 L904.2,819.3 L905.2,819.2 L906.1,819.1 L906.9,819.0"/>
<path stroke="#0000FF" d="M153.2,820.0 L397.1,820.0 L398.1,820.0 L399.1,819.9 L400.1,819.9 L401.1,819.8 L402.1,819.7 L403.1,819.6 L404.1,819.5 L405.1,819.4 L406.1,819.3 L407.1,819.1 L408.1,819.0 L409.1,818.8 L410.1,818.6 L411.0,818.4 L412.0,818.2 L413.0,818.0 L414.0,817.8 L415.0,817.6 L415.9,817.3 L416.9,817.1 L417.9,816.8 L418.8,816.6 L419.8,816.3 L420.8,816.1 L421.8,815.9 L422.7,815.7 L423.7,815.5 L424.7,815.3 L425.7,815.1 L426.7,814.9 L427.6,814.8 L428.6,814.6 L429.6,814.5 L430.6,814.4 L431.6,814.2 L432.6,814.1 L433.6,813.9 L434.6,813.8 L435.6,813.7 L436.6,813.5 L437.5,813.4 L438.5,813.2 L439.5,813.1 L440.5,813.0 L441.5,812.8 L442.5,812.7 L443.5,812.5 L444.5,812.4 L445.5,812.2 L446.5,812.1 L447.4,811.9 L448.4,811.7 L449.4,811.5 L450.4,811.3 L451.4,811.1 L452.4,810.9 L453.3,810.7 L454.3,810.4 L455.3,810.2 L456.3,809.9 L457.2,809.7 L458.2,809.4 L459.1,809.1 L460.1,808.8 L461.0,808.4 L461.9,808.1 L462.8,807.7 L463.8,807.2 L464.7,806.8 L465.6,806.3 L466.4,805.8 L467.3,805.3 L468.1,804.8 L468.9,804.2 L469.7,803.6 L470.5,803.0 L471.3,802.3 L472.0,801.7 L472.8,800.9 L473.5,800.2 L474.1,799.5 L474.8,798.8 L475.4,798.0 L476.1,797.2 L476.7,796.4 L477.3,795.6 L477.9,794.8 L478.5,794.0 L479.0,793.1 L479.5,792.3 L480.0,791.4 L480.5,790.6 L481.0,789.7 L481.4,788.8 L481.9,787.9 L482.3,787.0 L482.7,786.1 L483.1,785.2 L483.5,784.2 L483.9,783.3 L484.2,782.4 L484.6,781.4 L485.0,780.5 L485.4,779.6 L485.7,778.6 L486.1,777.7 L486.5,776.8 L486.8,775.8 L487.2,774.9 L487.5,774.0 L487.8,773.0 L488.2,772.1 L488.5,771.2 L488.9,770.2 L489.3,769.3 L489.7,768.4 L490.1,767.5 L490.5,766.5 L490.9,765.6 L491.3,764.7 L491.7,763.8 L492.1,762.9 L492.4,761.9 L492.7,761.0 L493.0,760.0 L493.3,759.1 L493.6,758.1 L493.8,757.2 L494.1,756.2 L494.3,755.2 L494.6,754.3 L494.8,753.3 L495.0,752.3 L495.3,751.4 L495.5,750.4 L495.7,749.4 L495.9,748.4 L496.1,747.4 L496.3,746.5 L496.5,745.5 L496.7,744.5 L496.9,743.5 L497.1,742.5 L497.3,741.5 L497.5,740.6 L497.7,739.6 L497.9,738.6 L498.0,737.6 L498.2,736.6 L498.4,735.6 L498.6,734.6 L498.8,733.7 L499.1,732.7 L499.3,731.7 L499.5,730.7 L499.7,729.7 L499.9,728.8 L500.1,727.8 L500.3,726.8 L500.5,725.8 L500.7,724.9 L501.0,723.9 L501.2,722.9 L501.4,721.9 L501.6,721.0 L501.8,720.0 L502.0,719.0 L502.2,718.0 L502.4,717.0 L502.6,716.1 L502.8,715.1 L503.0,714.1 L503.3,713.1 L503.5,712.1 L503.7,711.2 L503.9,710.2 L504.1,709.2 L504.3,708.2 L504.5,707.3 L504.7,706.3 L504.9,705.3 L505.1,704.3 L505.3,703.3 L505.5,702.4 L505.7,701.4 L505.9,700.4 L506.1,699.4 L506.3,698.4 L506.5,697.5 L506.7,696.5 L506.9,695.5 L507.1,694.5 L507.3,693.5 L507.5,692.6 L507.7,691.6 L507.9,690.6 L508.1,689.6 L508.3,688.6 L508.5,687.7 L508.7,686.7 L508.9,685.7 L509.1,684.7 L509.3,683.7 L509.5,682.8 L509.7,681.8 L509.9,680.8 L510.0,679.8 L510.2,678.8 L510.4,677.8 L510.6,676.9 L510.8,675.9 L510.9,674.9 L511.1,673.9 L511.3,672.9 L511.5,671.9 L511.6,671.0 L511.8,670.0 L512.0,669.0 L512.2,668.0 L512.3,667.0 L512.5,666.0 L512.7,665.0 L512.8,664.1 L513.0,663.1 L513.2,662.1 L513.3,661.1 L513.5,660.1 L513.6,659.1 L513.8,658.1 L513.9,657.1 L514.1,656.2 L514.2,655.2 L514.4,654.2 L514.5,653.2 L514.7,652.2 L514.8,651.2 L515.0,650.2 L515.1,649.2 L515.3,648.2 L515.4,647.3 L515.6,646.3 L515.8,645.3 L515.9,644.3 L516.1,643.3 L516.3,642.3 L516.4,641.3 L516.6,640.4 L516.8,639.4 L517.0,638.4 L517.2,637.4 L517.4,636.4 L517.5,635.4 L517.7,634.5 L517.9,633.5 L518.1,632.5 L518.3,631.5 L518.5,630.5 L518.7,629.6 L519.0,628.6 L519.2,627.6 L519.4,626.6 L519.6,625.7 L519.8,624.7 L520.1,623.7 L520.3,622.7 L520.5,621.8 L520.8,620.8 L521.0,619.8 L521.3,618.9 L521.6,617.9 L521.8,616.9 L522.1,616.0 L522.4,615.0 L522.6,614.0 L522.9,613.1 L523.2,612.1 L523.5,611.2 L523.8,610.2 L524.1,609.3 L524.4,608.3 L524.7,607.4 L525.1,606.4 L525.4,605.5 L525.7,604.5 L526.1,603.6 L526.4,602.6 L526.8,601.7 L527.1,600.7 L527.5,599.8 L527.9,598.9 L528.3,598.0 L528.7,597.1 L529.1,596.2 L529.6,595.3 L530.0,594.4 L530.5,593.5 L531.0,592.6 L531.5,591.7 L532.1,590.8 L532.6,589.9 L533.2,589.2 L533.9,588.5 L534.6,587.9 L535.4,587.3 L536.2,586.7 L537.2,586.2 L538.1,585.8 L539.1,585.6 L540.0,585.6 L541.0,585.5 L542.1,585.5 L543.1,585.5 L544.1,585.5 L545.1,585.6 L546.1,585.8 L547.0,586.1 L548.0,586.3 L549.0,586.5 L550.0,586.6 L551.0,586.5 L551.9,586.4 L552.9,586.1 L553.9,585.8 L554.8,585.4 L555.8,585.1 L556.7,584.7 L557.6,584.3 L558.5,583.9 L559.4,583.4 L560.3,582.9 L561.2,582.4 L562.1,582.0 L562.9,581.5 L563.8,580.9 L564.6,580.4 L565.5,579.8 L566.4,579.3 L567.2,578.9 L568.2,578.5 L569.1,578.2 L570.1,577.9 L571.1,577.7 L572.1,577.6 L573.0,577.7 L574.0,577.9 L575.0,578.3 L575.9,578.7 L576.8,579.2 L577.6,579.7 L578.4,580.4 L579.1,581.1 L579.8,581.8 L580.5,582.5 L581.0,583.3 L581.6,584.2 L582.1,585.0 L582.6,585.9 L583.1,586.8 L583.6,587.7 L584.1,588.6 L584.5,589.5 L585.0,590.3 L585.5,591.2 L585.9,592.1 L586.4,593.0 L586.8,593.9 L587.3,594.8 L587.7,595.7 L588.2,596.6 L588.6,597.5 L589.0,598.4 L589.5,599.3 L589.9,600.2 L590.3,601.1 L590.8,602.0 L591.2,602.9 L591.7,603.8 L592.1,604.7 L592.6,605.6 L593.1,606.5 L593.5,607.3 L594.0,608.2 L594.4,609.1 L594.9,610.0 L595.3,610.9 L595.7,611.8 L596.2,612.7 L596.6,613.6 L597.0,614.5 L597.5,615.4 L597.9,616.3 L598.3,617.2 L598.8,618.1 L599.2,619.0 L599.6,619.9 L600.0,620.9 L600.4,621.8 L600.8,622.7 L601.2,623.6 L601.6,624.5 L602.0,625.5 L602.3,626.4 L602.7,627.3 L603.0,628.3 L603.4,629.2 L603.7,630.1 L604.0,631.1 L604.4,632.0 L604.7,633.0 L605.0,633.9 L605.3,634.9 L605.6,635.8 L605.9,636.8 L606.2,637.7 L606.6,638.7 L606.9,639.6 L607.2,640.6 L607.5,641.5 L607.8,642.5 L608.2,643.4 L608.5,644.4 L608.8,645.3 L609.1,646.3 L609.4,647.2 L609.7,648.2 L610.1,649.1 L610.4,650.1 L610.7,651.0 L611.0,652.0 L611.3,652.9 L611.6,653.9 L611.9,654.8 L612.3,655.8 L612.6,656.7 L612.9,657.7 L613.2,658.6 L613.5,659.6 L613.8,660.5 L614.2,661.5 L614.5,662.4 L614.8,663.3 L615.1,664.3 L615.4,665.2 L615.7,666.2 L616.0,667.1 L616.4,668.1 L616.7,669.0 L617.0,670.0 L617.3,670.9 L617.6,671.9 L617.9,672.8 L618.3,673.8 L618.6,674.7 L618.9,675.7 L619.2,676.6 L619.5,677.6 L619.8,678.5 L620.2,679.5 L620.5,680.4 L620.8,681.4 L621.1,682.3 L621.4,683.3 L621.7,684.2 L622.1,685.2 L622.4,686.1 L622.7,687.1 L623.0,688.0 L623.3,689.0 L623.6,689.9 L624.0,690.9 L624.3,691.8 L624.6,692.8 L624.9,693.7 L625.2,694.7 L625.5,695.6 L625.8,696.6 L626.2,697.5 L626.5,698.5 L626.8,699.4 L627.1,700.4 L627.4,701.3 L627.7,702.3 L628.0,703.2 L628.3,704.2 L628.6,705.1 L629.0,706.1 L629.3,707.0 L629.6,708.0 L629.9,708.9 L630.2,709.8 L630.6,710.8 L630.9,711.7 L631.2,712.7 L631.6,713.6 L631.9,714.6 L632.2,715.5 L632.5,716.5 L632.8,717.5 L633.1,718.4 L633.4,719.4 L633.8,720.4 L634.1,721.3 L634.4,722.3 L634.8,723.2 L635.1,724.2 L635.5,725.1 L635.9,726.0 L636.2,726.9 L636.7,727.8 L637.1,728.7 L637.6,729.6 L638.0,730.4 L638.7,731.2 L639.3,731.9 L640.0,732.7 L640.5,733.5 L641.1,734.4 L641.6,735.2 L642.1,736.1 L642.6,737.0 L643.1,737.8 L643.6,738.7 L644.1,739.6 L644.6,740.5 L645.1,741.4 L645.6,742.2 L646.1,743.1 L646.7,743.9 L647.2,744.8 L647.8,745.6 L648.4,746.3 L649.0,747.1 L649.6,747.8 L650.3,748.6 L651.0,749.3 L651.8,750.0 L652.5,750.6 L653.3,751.3 L654.0,752.0 L654.8,752.7 L655.5,753.4 L656.2,754.1 L656.9,754.8 L657.6,755.5 L658.2,756.3 L658.8,757.0 L659.5,757.8 L660.1,758.6 L660.6,759.4 L661.2,760.3 L661.8,761.1 L662.4,761.9 L662.9,762.8 L663.5,763.6 L664.0,764.4 L664.6,765.3 L665.1,766.1 L665.6,767.0 L666.1,767.8 L666.6,768.7 L667.1,769.5 L667.6,770.4 L668.1,771.3 L668.6,772.1 L669.1,773.0 L669.7,773.9 L670.2,774.7 L670.7,775.6 L671.2,776.4 L671.8,777.3 L672.3,778.1 L672.8,779.0 L673.4,779.8 L673.9,780.7 L674.4,781.5 L675.0,782.3 L675.5,783.2 L676.1,784.0 L676.7,784.8 L677.2,785.6 L677.8,786.5 L678.4,787.2 L679.0,788.0 L679.7,788.8 L680.3,789.6 L680.9,790.4 L681.6,791.2 L682.2,791.9 L682.9,792.7 L683.5,793.4 L684.2,794.2 L684.9,794.9 L685.6,795.6 L686.3,796.3 L687.0,797.0 L687.7,797.7 L688.4,798.4 L689.2,799.1 L689.9,799.7 L690.7,800.4 L691.5,801.0 L692.3,801.7 L693.1,802.3 L693.9,802.9 L694.7,803.5 L695.5,804.0 L696.3,804.6 L697.2,805.1 L698.0,805.6 L698.9,806.1 L699.8,806.6 L700.7,807.0 L701.6,807.5 L702.5,807.9 L703.4,808.3 L704.4,808.6 L705.3,809.0 L706.2,809.3 L707.2,809.6 L708.2,809.9 L709.1,810.2 L710.1,810.4 L711.1,810.6 L712.1,810.9 L713.1,811.0 L714.0,811.2 L715.0,811.3 L716.0,811.3 L717.0,811.4 L718.0,811.5 L719.0,811.5 L720.0,811.6 L721.0,811.6 L722.0,811.7 L723.0,811.7 L724.0,811.8 L725.0,811.9 L726.0,811.9 L727.0,811.9 L728.0,812.0 L729.0,812.0 L730.0,812.0 L731.0,812.1 L732.0,812.1 L733.0,812.2 L734.0,812.2 L735.0,812.3 L736.0,812.4 L737.0,812.6 L737.9,812.9 L738.9,813.2 L739.9,813.5 L740.8,813.7 L741.8,813.8 L742.8,814.0 L743.8,814.1 L744.8,814.3 L745.8,814.4 L746.8,814.5 L747.8,814.7 L748.7,814.9 L749.7,815.0 L750.7,815.2 L751.7,815.4 L752.7,815.6 L753.7,815.8 L754.6,816.0 L755.6,816.2 L756.6,816.4 L757.6,816.6 L758.6,816.8 L759.5,817.0 L760.5,817.2 L761.5,817.4 L762.5,817.6 L763.5,817.9 L764.4,818.0 L765.4,818.2 L766.4,818.4 L767.4,818.6 L768.4,818.7 L769.4,818.8 L770.4,819.0 L771.3,819.1 L772.3,819.2 L773.3,819.3 L774.3,819.4 L775.3,819.5 L776.3,819.6 L777.3,819.8 L778.3,819.9 L779.3,819.9 L780.3,820.0 L781.3,820.0 L856.3,820.0 L857.3,820.0 L858.3,819.9 L859.3,819.8 L860.3,819.7 L861.3,819.6 L862.3,819.5 L863.3,819.4 L864.3,819.3 L865.3,819.2 L866.3,819.1 L867.3,819.0 L868.3,819.0 L869.3,818.9 L870.3,818.8 L871.3,818.8 L872.3,818.7 L873.3,818.7 L874.3,818.7 L875.3,818.7 L876.3,818.7 L877.3,818.8 L878.3,818.9 L879.3,818.9 L880.2,819.0 L881.2,819.1 L882.2,819.2 L883.2,819.2 L884.2,819.3 L885.2,819.4 L886.2,819.5 L887.2,819.6 L888.2,819.7 L889.2,819.9 L890.2,819.9 L891.2,820.0 L892.2,820.0 L906.9,820.0"/>
<path stroke="#00FFFF" d="M153.2,820.0 L452.1,820.0 L453.1,820.0 L454.1,819.9 L455.1,819.8 L456.1,819.8 L457.1,819.7 L458.1,819.6 L459.1,819.5 L460.1,819.4 L461.1,819.3 L462.1,819.3 L463.1,819.2 L464.1,819.1 L465.1,819.1 L466.1,819.0 L467.1,819.0 L468.1,818.9 L469.1,818.9 L470.1,818.8 L471.1,818.8 L472.1,818.7 L473.1,818.6 L474.1,818.6 L475.1,818.5 L476.1,818.4 L477.1,818.3 L478.1,818.2 L479.1,818.0 L480.1,817.9 L481.0,817.6 L482.0,817.4 L483.0,817.1 L484.0,816.8 L484.9,816.5 L485.8,816.2 L486.7,815.8 L487.6,815.3 L488.5,814.8 L489.4,814.3 L490.2,813.8 L491.1,813.2 L491.9,812.7 L492.8,812.2 L493.6,811.6 L494.4,811.0 L495.2,810.5 L496.0,809.9 L496.8,809.3 L497.6,808.7 L498.4,808.1 L499.2,807.5 L500.0,806.9 L500.8,806.2 L501.6,805.6 L502.4,805.0 L503.1,804.4 L503.9,803.7 L504.7,803.1 L505.4,802.4 L506.2,801.8 L506.9,801.1 L507.7,800.4 L508.4,799.8 L509.2,799.1 L509.9,798.4 L510.6,797.7 L511.3,797.0 L512.0,796.3 L512.7,795.6 L513.4,794.8 L514.1,794.1 L514.7,793.3 L515.4,792.6 L516.1,791.8 L516.7,791.1 L517.4,790.3 L518.0,789.5 L518.6,788.8 L519.3,788.0 L519.9,787.2 L520.5,786.4 L521.1,785.6 L521.8,784.9 L522.4,784.1 L523.0,783.2 L523.5,782.4 L524.1,781.6 L524.7,780.8 L525.2,780.0 L525.8,779.1 L526.3,778.3 L526.8,777.4 L527.3,776.5 L527.7,775.6 L528.2,774.8 L528.7,773.9 L529.2,773.0 L529.7,772.2 L530.2,771.3 L530.7,770.4 L531.2,769.5 L531.6,768.7 L532.1,767.8 L532.6,766.9 L533.0,766.0 L533.4,765.1 L533.9,764.2 L534.3,763.3 L534.7,762.4 L535.1,761.5 L535.6,760.6 L536.0,759.6 L536.4,758.7 L536.8,757.8 L537.2,756.9 L537.6,756.0 L538.0,755.1 L538.4,754.2 L538.8,753.2 L539.2,752.3 L539.6,751.4 L540.0,750.5 L540.4,749.6 L540.7,748.6 L541.1,747.7 L541.5,746.8 L541.9,745.9 L542.3,745.0 L542.7,744.0 L543.1,743.1 L543.5,742.2 L543.9,741.3 L544.3,740.4 L544.7,739.5 L545.2,738.5 L545.6,737.6 L546.0,736.7 L546.5,735.9 L546.9,735.0 L547.4,734.1 L547.9,733.2 L548.4,732.4 L549.0,731.5 L549.5,730.7 L550.0,729.8 L550.6,729.0 L551.1,728.1 L551.7,727.3 L552.2,726.5 L552.8,725.7 L553.4,724.9 L554.0,724.0 L554.5,723.2 L555.1,722.4 L555.7,721.6 L556.3,720.8 L556.9,720.0 L557.5,719.2 L558.1,718.4 L558.7,717.6 L559.3,716.7 L559.8,715.9 L560.4,715.1 L560.9,714.2 L561.4,713.4 L561.9,712.5 L562.4,711.6 L562.8,710.8 L563.3,709.9 L563.7,709.0 L564.2,708.1 L564.6,707.1 L565.0,706.2 L565.4,705.3 L565.8,704.4 L566.1,703.5 L566.5,702.5 L566.8,701.6 L567.1,700.7 L567.5,699.7 L567.8,698.8 L568.1,697.8 L568.4,696.8 L568.7,695.9 L569.0,694.9 L569.3,694.0 L569.6,693.0 L569.9,692.1 L570.2,691.1 L570.5,690.1 L570.8,689.2 L571.1,688.2 L571.4,687.3 L571.7,686.3 L572.0,685.4 L572.3,684.4 L572.6,683.5 L572.9,682.5 L573.1,681.5 L573.4,680.6 L573.7,679.6 L574.0,678.7 L574.3,677.7 L574.6,676.8 L574.9,675.8 L575.2,674.9 L575.5,673.9 L575.8,673.0 L576.1,672.0 L576.4,671.1 L576.8,670.1 L577.1,669.2 L577.4,668.2 L577.7,667.3 L578.0,666.3 L578.4,665.4 L578.7,664.4 L579.0,663.5 L579.4,662.5 L579.7,661.6 L580.0,660.6 L580.4,659.7 L580.7,658.8 L581.1,657.8 L581.4,656.9 L581.8,656.0 L582.1,655.0 L582.5,654.1 L582.9,653.2 L583.3,652.3 L583.7,651.4 L584.1,650.4 L584.5,649.5 L584.9,648.6 L585.3,647.7 L585.7,646.8 L586.2,645.9 L586.6,645.0 L587.0,644.1 L587.5,643.2 L587.9,642.3 L588.3,641.4 L588.8,640.5 L589.2,639.6 L589.6,638.7 L590.1,637.8 L590.5,636.9 L591.0,636.0 L591.4,635.1 L591.9,634.2 L592.4,633.3 L592.8,632.4 L593.3,631.5 L593.7,630.7 L594.2,629.8 L594.6,628.9 L595.1,628.0 L595.6,627.1 L596.0,626.2 L596.4,625.3 L596.9,624.4 L597.3,623.5 L597.8,622.6 L598.2,621.7 L598.7,620.8 L599.1,619.9 L599.5,619.0 L600.0,618.1 L600.4,617.2 L600.8,616.3 L601.3,615.4 L601.7,614.5 L602.1,613.6 L602.5,612.7 L602.9,611.8 L603.3,610.8 L603.6,609.9 L604.0,609.0 L604.4,608.1 L604.8,607.1 L605.1,606.2 L605.5,605.3 L605.8,604.3 L606.2,603.4 L606.5,602.5 L606.9,601.5 L607.2,600.6 L607.6,599.6 L607.9,598.7 L608.3,597.8 L608.6,596.8 L608.9,595.9 L609.3,594.9 L609.6,594.0 L609.9,593.0 L610.2,592.1 L610.5,591.1 L610.8,590.2 L611.2,589.2 L611.5,588.3 L611.8,587.3 L612.1,586.4 L612.4,585.4 L612.7,584.5 L613.0,583.5 L613.3,582.6 L613.7,581.6 L614.0,580.7 L614.3,579.7 L614.6,578.8 L614.9,577.8 L615.2,576.9 L615.5,575.9 L615.8,575.0 L616.1,574.0 L616.4,573.1 L616.8,572.1 L617.1,571.2 L617.4,570.2 L617.7,569.3 L618.1,568.3 L618.4,567.4 L618.8,566.5 L619.1,565.5 L619.5,564.6 L619.8,563.7 L620.2,562.7 L620.6,561.8 L620.9,560.9 L621.3,560.0 L621.7,559.0 L622.1,558.1 L622.5,557.2 L622.9,556.3 L623.3,555.4 L623.7,554.4 L624.1,553.5 L624.5,552.6 L624.9,551.7 L625.3,550.8 L625.7,549.9 L626.2,549.0 L626.6,548.1 L627.1,547.2 L627.5,546.3 L628.0,545.4 L628.5,544.5 L629.0,543.6 L629.4,542.7 L629.9,541.9 L630.5,541.0 L631.0,540.1 L631.6,539.3 L632.1,538.5 L632.8,537.8 L633.5,537.1 L634.2,536.3 L635.0,535.7 L635.8,535.2 L636.7,534.8 L637.7,534.5 L638.7,534.4 L639.7,534.6 L640.7,534.9 L641.6,535.4 L642.3,535.9 L643.0,536.5 L643.7,537.3 L644.3,538.2 L644.9,539.0 L645.5,539.9 L646.0,540.7 L646.5,541.6 L647.0,542.5 L647.5,543.4 L647.9,544.3 L648.4,545.2 L648.8,546.1 L649.2,547.0 L649.5,547.9 L649.9,548.9 L650.2,549.8 L650.6,550.7 L650.9,551.7 L651.2,552.6 L651.5,553.6 L651.8,554.6 L652.1,555.5 L652.4,556.5 L652.7,557.4 L653.0,558.4 L653.3,559.3 L653.6,560.3 L653.8,561.3 L654.1,562.2 L654.4,563.2 L654.7,564.2 L654.9,565.1 L655.2,566.1 L655.4,567.1 L655.7,568.0 L655.9,569.0 L656.2,570.0 L656.4,570.9 L656.7,571.9 L656.9,572.9 L657.2,573.8 L657.4,574.8 L657.6,575.8 L657.9,576.8 L658.1,577.7 L658.3,578.7 L658.5,579.7 L658.8,580.7 L659.0,581.6 L659.2,582.6 L659.4,583.6 L659.6,584.6 L659.8,585.5 L660.1,586.5 L660.3,587.5 L660.5,588.5 L660.7,589.4 L660.9,590.4 L661.1,591.4 L661.3,592.4 L661.5,593.4 L661.7,594.3 L661.9,595.3 L662.1,596.3 L662.2,597.3 L662.4,598.3 L662.6,599.3 L662.8,600.2 L663.0,601.2 L663.2,602.2 L663.4,603.2 L663.6,604.2 L663.8,605.1 L664.0,606.1 L664.2,607.1 L664.4,608.1 L664.6,609.1 L664.8,610.0 L665.0,611.0 L665.2,612.0 L665.4,613.0 L665.6,614.0 L665.8,614.9 L666.0,615.9 L666.2,616.9 L666.4,617.9 L666.6,618.9 L666.8,619.8 L667.0,620.8 L667.2,621.8 L667.4,622.8 L667.6,623.8 L667.8,624.7 L667.9,625.7 L668.1,626.7 L668.3,627.7 L668.4,628.7 L668.6,629.7 L668.8,630.7 L668.9,631.6 L669.1,632.6 L669.2,633.6 L669.4,634.6 L669.6,635.6 L669.7,636.6 L669.9,637.6 L670.0,638.6 L670.2,639.5 L670.4,640.5 L670.5,641.5 L670.7,642.5 L670.9,643.5 L671.1,644.5 L671.3,645.4 L671.4,646.4 L671.6,647.4 L671.8,648.4 L672.0,649.4 L672.2,650.4 L672.4,651.3 L672.6,652.3 L672.8,653.3 L673.0,654.3 L673.2,655.3 L673.4,656.2 L673.6,657.2 L673.8,658.2 L674.0,659.2 L674.2,660.1 L674.4,661.1 L674.6,662.1 L674.8,663.1 L675.0,664.1 L675.2,665.1 L675.4,666.0 L675.6,667.0 L675.8,668.0 L676.0,669.0 L676.2,670.0 L676.4,670.9 L676.5,671.9 L676.7,672.9 L676.9,673.9 L677.1,674.9 L677.3,675.8 L677.5,676.8 L677.7,677.8 L678.0,678.8 L678.2,679.8 L678.4,680.7 L678.6,681.7 L678.8,682.7 L679.0,683.7 L679.3,684.6 L679.5,685.6 L679.7,686.6 L680.0,687.6 L680.2,688.5 L680.4,689.5 L680.6,690.5 L680.9,691.4 L681.1,692.4 L681.3,693.4 L681.6,694.4 L681.8,695.3 L682.0,696.3 L682.3,697.3 L682.5,698.3 L682.7,699.2 L682.9,700.2 L683.2,701.2 L683.4,702.2 L683.6,703.1 L683.9,704.1 L684.1,705.1 L684.3,706.1 L684.5,707.0 L684.8,708.0 L685.0,709.0 L685.2,709.9 L685.4,710.9 L685.7,711.9 L685.9,712.9 L686.1,713.8 L686.4,714.8 L686.6,715.8 L686.8,716.8 L687.0,717.7 L687.3,718.7 L687.5,719.7 L687.7,720.7 L687.9,721.6 L688.1,722.6 L688.4,723.6 L688.6,724.6 L688.8,725.5 L689.1,726.5 L689.3,727.5 L689.6,728.4 L689.8,729.4 L690.1,730.4 L690.4,731.3 L690.7,732.3 L691.1,733.2 L691.4,734.1 L691.8,735.1 L692.1,736.0 L692.4,737.0 L692.8,737.9 L693.1,738.9 L693.4,739.8 L693.7,740.8 L694.0,741.7 L694.2,742.7 L694.5,743.7 L694.8,744.6 L695.1,745.6 L695.4,746.5 L695.6,747.5 L695.9,748.5 L696.2,749.4 L696.5,750.4 L696.8,751.3 L697.1,752.3 L697.5,753.2 L697.8,754.1 L698.1,755.1 L698.5,756.0 L698.8,757.0 L699.2,757.9 L699.6,758.8 L700.0,759.8 L700.3,760.7 L700.7,761.6 L701.1,762.5 L701.5,763.4 L701.9,764.4 L702.3,765.3 L702.7,766.2 L703.2,767.1 L703.6,768.0 L704.0,768.9 L704.5,769.8 L704.9,770.7 L705.4,771.6 L705.8,772.5 L706.3,773.3 L706.8,774.2 L707.3,775.1 L707.7,776.0 L708.2,776.8 L708.7,777.7 L709.2,778.6 L709.8,779.4 L710.3,780.3 L710.8,781.2 L711.3,782.0 L711.8,782.9 L712.3,783.7 L712.9,784.6 L713.4,785.4 L714.0,786.2 L714.5,787.1 L715.1,787.9 L715.6,788.7 L716.2,789.6 L716.8,790.4 L717.4,791.2 L718.0,792.0 L718.6,792.8 L719.2,793.6 L719.8,794.4 L720.4,795.2 L721.1,796.0 L721.7,796.7 L722.4,797.5 L723.0,798.3 L723.7,799.0 L724.4,799.7 L725.1,800.3 L725.9,801.0 L726.6,801.7 L727.4,802.4 L728.2,803.2 L729.0,803.9 L729.8,804.6 L730.6,805.2 L731.5,805.9 L732.3,806.4 L733.2,806.9 L734.1,807.2 L735.0,807.5 L735.9,807.6 L736.9,807.6 L737.9,807.6 L738.9,807.7 L739.9,807.7 L740.9,807.8 L741.8,808.0 L742.8,808.3 L743.7,808.7 L744.6,809.2 L745.5,809.7 L746.4,810.2 L747.4,810.6 L748.3,811.0 L749.2,811.4 L750.2,811.7 L751.1,812.0 L752.1,812.3 L753.0,812.6 L754.0,812.9 L754.9,813.2 L755.9,813.4 L756.9,813.7 L757.8,814.0 L758.8,814.2 L759.8,814.5 L760.7,814.7 L761.7,815.0 L762.7,815.2 L763.7,815.5 L764.6,815.7 L765.6,815.9 L766.6,816.1 L767.6,816.3 L768.5,816.5 L769.5,816.7 L770.5,816.8 L771.5,817.0 L772.5,817.1 L773.5,817.3 L774.5,817.4 L775.5,817.5 L776.5,817.7 L777.5,817.8 L778.4,817.9 L779.4,818.0 L780.4,818.1 L781.4,818.2 L782.4,818.3 L783.4,818.4 L784.4,818.5 L785.4,818.5 L786.4,818.6 L787.4,818.7 L788.4,818.7 L789.4,818.8 L790.4,818.8 L791.4,818.9 L792.4,818.9 L793.4,818.9 L794.4,818.9 L795.4,818.9 L796.4,818.9 L797.4,818.9 L798.4,818.9 L799.4,818.9 L800.4,818.9 L801.4,818.8 L802.4,818.8 L803.4,818.8 L804.4,818.8 L805.4,818.8 L806.4,818.8 L807.4,818.8 L808.4,818.7 L809.4,818.7 L810.4,818.7 L811.4,818.7 L812.4,818.7 L813.4,818.7 L814.4,818.7 L815.4,818.7 L816.4,818.7 L817.4,818.7 L818.4,818.7 L819.4,818.6 L820.4,818.6 L821.4,818.6 L822.4,818.6 L823.4,818.6 L824.4,818.6 L825.4,818.6 L826.4,818.6 L827.4,818.6 L828.4,818.6 L829.4,818.6 L830.4,818.6 L831.4,818.6 L832.4,818.6 L833.4,818.7 L834.4,818.7 L835.4,818.8 L836.4,818.8 L837.4,818.9 L838.4,819.0 L839.4,819.0 L840.4,819.1 L841.4,819.2 L842.4,819.2 L843.4,819.3 L844.4,819.4 L845.4,819.5 L846.4,819.6 L847.4,819.7 L848.4,819.8 L849.4,819.9 L850.4,820.0 L851.4,820.0 L906.8,820.0"/>
<path stroke="#FF00FF" d="M153.2,820.0 L376.1,820.0 L377.1,820.0 L378.1,819.9 L379.1,819.9 L380.1,819.8 L381.1,819.7 L382.1,819.6 L383.1,819.5 L384.1,819.3 L385.1,819.2 L386.1,819.0 L387.1,818.8 L388.0,818.6 L389.0,818.4 L390.0,818.2 L391.0,818.0 L392.0,817.8 L393.0,817.6 L393.9,817.4 L394.9,817.3 L395.9,817.1 L396.9,816.9 L397.9,816.8 L398.9,816.6 L399.9,816.5 L400.9,816.3 L401.9,816.2 L402.8,816.1 L403.8,816.0 L404.8,815.9 L405.8,815.8 L406.8,815.8 L407.8,815.7 L408.8,815.7 L409.8,815.7 L410.8,815.6 L411.9,815.6 L412.9,815.6 L413.9,815.6 L414.9,815.5 L415.9,815.5 L416.8,815.5 L417.8,815.4 L418.8,815.3 L419.8,815.1 L420.8,814.8 L421.7,814.5 L422.7,814.1 L423.6,813.8 L424.5,813.4 L425.4,812.9 L426.2,812.4 L427.0,811.8 L427.8,811.2 L428.6,810.5 L429.4,809.9 L430.2,809.3 L431.0,808.6 L431.7,808.0 L432.4,807.3 L433.2,806.6 L433.9,805.9 L434.6,805.2 L435.4,804.6 L436.1,803.9 L436.9,803.2 L437.6,802.6 L438.4,801.9 L439.1,801.2 L439.8,800.5 L440.6,799.9 L441.3,799.2 L442.1,798.5 L442.8,797.9 L443.6,797.2 L444.3,796.6 L445.1,795.9 L445.8,795.2 L446.6,794.6 L447.3,793.9 L448.0,793.2 L448.7,792.5 L449.4,791.8 L450.1,791.0 L450.8,790.3 L451.5,789.6 L452.2,788.8 L452.8,788.1 L453.5,787.3 L454.1,786.5 L454.6,785.7 L455.2,784.9 L455.8,784.1 L456.3,783.2 L456.8,782.4 L457.4,781.5 L457.8,780.6 L458.3,779.8 L458.8,778.9 L459.3,778.0 L459.7,777.1 L460.2,776.2 L460.6,775.3 L461.1,774.4 L461.5,773.5 L462.0,772.6 L462.4,771.7 L462.8,770.8 L463.2,769.9 L463.6,769.0 L464.0,768.0 L464.4,767.1 L464.8,766.2 L465.1,765.3 L465.5,764.3 L465.8,763.4 L466.2,762.5 L466.5,761.5 L466.8,760.6 L467.2,759.6 L467.5,758.7 L467.8,757.8 L468.1,756.8 L468.4,755.9 L468.7,754.9 L469.0,753.9 L469.3,753.0 L469.6,752.0 L469.8,751.1 L470.1,750.1 L470.4,749.1 L470.7,748.2 L471.0,747.2 L471.2,746.3 L471.5,745.3 L471.8,744.3 L472.0,743.4 L472.3,742.4 L472.6,741.4 L472.8,740.5 L473.1,739.5 L473.4,738.5 L473.6,737.6 L473.9,736.6 L474.2,735.6 L474.4,734.7 L474.7,733.7 L475.0,732.7 L475.3,731.8 L475.5,730.8 L475.8,729.8 L476.1,728.9 L476.4,727.9 L476.6,727.0 L476.9,726.0 L477.2,725.0 L477.5,724.1 L477.7,723.1 L478.0,722.1 L478.3,721.2 L478.5,720.2 L478.8,719.3 L479.1,718.3 L479.3,717.3 L479.6,716.4 L479.9,715.4 L480.1,714.4 L480.4,713.5 L480.7,712.5 L480.9,711.5 L481.2,710.6 L481.4,709.6 L481.7,708.6 L482.0,707.7 L482.2,706.7 L482.5,705.8 L482.7,704.8 L483.0,703.8 L483.3,702.9 L483.5,701.9 L483.8,700.9 L484.0,700.0 L484.3,699.0 L484.5,698.0 L484.8,697.0 L485.0,696.1 L485.3,695.1 L485.5,694.1 L485.7,693.2 L486.0,692.2 L486.2,691.2 L486.5,690.3 L486.7,689.3 L486.9,688.3 L487.2,687.3 L487.4,686.4 L487.7,685.4 L487.9,684.4 L488.1,683.5 L488.4,682.5 L488.6,681.5 L488.9,680.5 L489.1,679.6 L489.3,678.6 L489.6,677.6 L489.8,676.7 L490.1,675.7 L490.3,674.7 L490.6,673.8 L490.8,672.8 L491.1,671.8 L491.3,670.9 L491.6,669.9 L491.8,668.9 L492.1,667.9 L492.3,667.0 L492.6,666.0 L492.8,665.0 L493.0,664.1 L493.3,663.1 L493.5,662.1 L493.7,661.1 L494.0,660.2 L494.2,659.2 L494.4,658.2 L494.6,657.3 L494.8,656.3 L495.1,655.3 L495.3,654.3 L495.5,653.3 L495.7,652.4 L495.9,651.4 L496.1,650.4 L496.3,649.4 L496.5,648.4 L496.7,647.5 L496.9,646.5 L497.1,645.5 L497.3,644.5 L497.5,643.5 L497.7,642.6 L497.9,641.6 L498.1,640.6 L498.2,639.6 L498.4,638.6 L498.6,637.7 L498.8,636.7 L499.0,635.7 L499.2,634.7 L499.3,633.7 L499.5,632.7 L499.7,631.8 L499.9,630.8 L500.0,629.8 L500.2,628.8 L500.4,627.8 L500.6,626.8 L500.7,625.8 L500.9,624.9 L501.1,623.9 L501.3,622.9 L501.4,621.9 L501.6,620.9 L501.8,619.9 L502.0,618.9 L502.1,618.0 L502.3,617.0 L502.5,616.0 L502.7,615.0 L502.8,614.0 L503.0,613.0 L503.2,612.1 L503.4,611.1 L503.5,610.1 L503.7,609.1 L503.9,608.1 L504.1,607.1 L504.3,606.2 L504.4,605.2 L504.6,604.2 L504.8,603.2 L505.0,602.2 L505.2,601.2 L505.3,600.3 L505.5,599.3 L505.7,598.3 L505.9,597.3 L506.1,596.3 L506.2,595.3 L506.4,594.3 L506.6,593.4 L506.8,592.4 L506.9,591.4 L507.1,590.4 L507.3,589.4 L507.5,588.4 L507.7,587.5 L507.8,586.5 L508.0,585.5 L508.2,584.5 L508.4,583.5 L508.6,582.5 L508.7,581.6 L508.9,580.6 L509.1,579.6 L509.3,578.6 L509.5,577.6 L509.6,576.6 L509.8,575.7 L510.0,574.7 L510.2,573.7 L510.4,572.7 L510.5,571.7 L510.7,570.7 L510.9,569.8 L511.1,568.8 L511.3,567.8 L511.4,566.8 L511.6,565.8 L511.8,564.8 L512.0,563.9 L512.2,562.9 L512.3,561.9 L512.5,560.9 L512.7,559.9 L512.8,558.9 L513.0,557.9 L513.2,557.0 L513.4,556.0 L513.5,555.0 L513.7,554.0 L513.8,553.0 L514.0,552.0 L514.2,551.0 L514.3,550.1 L514.5,549.1 L514.7,548.1 L514.8,547.1 L515.0,546.1 L515.2,545.1 L515.4,544.1 L515.5,543.2 L515.7,542.2 L515.9,541.2 L516.1,540.2 L516.2,539.2 L516.4,538.2 L516.6,537.2 L516.8,536.3 L517.0,535.3 L517.2,534.3 L517.3,533.3 L517.5,532.3 L517.7,531.4 L517.9,530.4 L518.1,529.4 L518.4,528.4 L518.6,527.4 L518.8,526.5 L519.0,525.5 L519.2,524.5 L519.5,523.5 L519.7,522.6 L520.0,521.6 L520.2,520.6 L520.5,519.7 L520.7,518.7 L521.0,517.7 L521.3,516.8 L521.6,515.8 L521.9,514.9 L522.2,513.9 L522.5,513.0 L522.8,512.0 L523.1,511.0 L523.5,510.1 L523.8,509.1 L524.2,508.1 L524.6,507.2 L525.1,506.3 L525.5,505.5 L526.1,504.7 L526.7,503.9 L527.4,503.0 L528.2,502.2 L529.0,501.6 L529.9,501.2 L530.7,501.3 L531.5,501.6 L532.4,502.2 L533.3,503.0 L534.0,503.8 L534.6,504.5 L535.1,505.3 L535.6,506.1 L536.0,507.0 L536.4,508.0 L536.8,508.9 L537.2,509.9 L537.5,510.9 L537.9,511.8 L538.3,512.8 L538.7,513.7 L539.1,514.6 L539.5,515.5 L539.9,516.4 L540.2,517.4 L540.6,518.3 L541.0,519.2 L541.4,520.2 L541.7,521.1 L542.1,522.0 L542.4,523.0 L542.8,523.9 L543.1,524.8 L543.4,525.8 L543.8,526.7 L544.1,527.7 L544.4,528.6 L544.8,529.6 L545.1,530.5 L545.4,531.5 L545.7,532.4 L546.0,533.4 L546.3,534.3 L546.6,535.3 L546.9,536.2 L547.2,537.2 L547.5,538.1 L547.8,539.1 L548.1,540.1 L548.3,541.0 L548.6,542.0 L548.8,543.0 L549.1,543.9 L549.4,544.9 L549.6,545.8 L549.9,546.8 L550.2,547.8 L550.5,548.7 L550.7,549.7 L551.0,550.7 L551.3,551.6 L551.6,552.6 L551.9,553.5 L552.2,554.5 L552.4,555.5 L552.7,556.4 L553.0,557.4 L553.3,558.3 L553.5,559.3 L553.8,560.3 L554.1,561.2 L554.3,562.2 L554.6,563.2 L554.8,564.1 L555.1,565.1 L555.3,566.1 L555.5,567.0 L555.8,568.0 L556.0,569.0 L556.2,570.0 L556.4,570.9 L556.6,571.9 L556.9,572.9 L557.1,573.9 L557.3,574.8 L557.5,575.8 L557.7,576.8 L557.9,577.8 L558.1,578.8 L558.3,579.7 L558.5,580.7 L558.7,581.7 L559.0,582.7 L559.2,583.6 L559.4,584.6 L559.6,585.6 L559.8,586.6 L560.0,587.6 L560.2,588.5 L560.5,589.5 L560.7,590.5 L560.9,591.5 L561.1,592.4 L561.3,593.4 L561.5,594.4 L561.7,595.4 L562.0,596.3 L562.2,597.3 L562.4,598.3 L562.6,599.3 L562.8,600.3 L563.0,601.2 L563.3,602.2 L563.5,603.2 L563.7,604.2 L563.9,605.1 L564.1,606.1 L564.4,607.1 L564.6,608.0 L564.8,609.0 L565.1,610.0 L565.3,611.0 L565.6,611.9 L565.8,612.9 L566.1,613.9 L566.3,614.8 L566.5,615.8 L566.8,616.8 L567.0,617.7 L567.3,618.7 L567.5,619.7 L567.8,620.7 L568.0,621.6 L568.3,622.6 L568.5,623.6 L568.8,624.5 L569.0,625.5 L569.2,626.5 L569.4,627.5 L569.7,628.4 L569.9,629.4 L570.1,630.4 L570.3,631.4 L570.5,632.3 L570.7,633.3 L570.9,634.3 L571.1,635.3 L571.3,636.3 L571.5,637.2 L571.8,638.2 L572.0,639.2 L572.2,640.2 L572.5,641.1 L572.7,642.1 L573.0,643.0 L573.3,644.0 L573.5,645.0 L573.8,645.9 L574.1,646.9 L574.4,647.9 L574.7,648.8 L575.0,649.8 L575.3,650.7 L575.6,651.7 L575.9,652.6 L576.1,653.6 L576.4,654.5 L576.7,655.5 L577.0,656.5 L577.3,657.4 L577.6,658.4 L577.9,659.3 L578.2,660.3 L578.5,661.2 L578.9,662.2 L579.2,663.1 L579.5,664.1 L579.8,665.0 L580.2,666.0 L580.5,666.9 L580.8,667.8 L581.2,668.8 L581.6,669.7 L581.9,670.6 L582.3,671.6 L582.7,672.5 L583.1,673.4 L583.5,674.3 L583.9,675.2 L584.3,676.1 L584.7,677.1 L585.2,678.0 L585.6,678.9 L586.1,679.8 L586.5,680.6 L587.0,681.5 L587.4,682.4 L587.9,683.3 L588.4,684.2 L588.9,685.0 L589.4,685.9 L590.0,686.7 L590.5,687.6 L591.0,688.4 L591.6,689.3 L592.1,690.1 L592.6,691.0 L593.2,691.8 L593.7,692.7 L594.2,693.5 L594.6,694.4 L595.1,695.3 L595.6,696.2 L596.0,697.1 L596.5,698.0 L597.0,698.9 L597.4,699.7 L597.9,700.6 L598.3,701.5 L598.7,702.5 L599.1,703.4 L599.5,704.3 L599.9,705.2 L600.3,706.1 L600.6,707.1 L601.0,708.0 L601.3,708.9 L601.6,709.9 L601.9,710.8 L602.3,711.8 L602.6,712.7 L602.9,713.7 L603.1,714.7 L603.4,715.6 L603.7,716.6 L604.0,717.5 L604.3,718.5 L604.5,719.5 L604.8,720.4 L605.0,721.4 L605.3,722.4 L605.5,723.3 L605.8,724.3 L606.0,725.3 L606.3,726.2 L606.5,727.2 L606.8,728.2 L607.0,729.2 L607.2,730.1 L607.5,731.1 L607.7,732.1 L607.9,733.1 L608.1,734.0 L608.4,735.0 L608.7,735.9 L609.1,736.9 L609.5,737.8 L609.9,738.7 L610.3,739.6 L610.7,740.6 L611.0,741.5 L611.3,742.4 L611.6,743.4 L611.9,744.3 L612.1,745.3 L612.3,746.3 L612.6,747.3 L612.8,748.2 L613.0,749.2 L613.2,750.2 L613.4,751.2 L613.6,752.2 L613.8,753.1 L614.0,754.1 L614.2,755.1 L614.4,756.1 L614.7,757.1 L614.9,758.0 L615.2,759.0 L615.4,760.0 L615.6,760.9 L615.9,761.9 L616.1,762.9 L616.4,763.8 L616.7,764.8 L616.9,765.8 L617.2,766.7 L617.5,767.7 L617.8,768.7 L618.0,769.6 L618.3,770.6 L618.6,771.5 L618.9,772.5 L619.2,773.4 L619.5,774.4 L619.9,775.4 L620.2,776.3 L620.5,777.3 L620.8,778.2 L621.2,779.2 L621.5,780.1 L621.9,781.0 L622.3,781.9 L622.7,782.8 L623.1,783.7 L623.5,784.6 L623.9,785.6 L624.4,786.5 L624.9,787.4 L625.4,788.3 L625.9,789.2 L626.5,790.0 L627.1,790.8 L627.7,791.5 L628.4,792.2 L629.1,792.9 L630.0,793.6 L630.9,794.2 L631.8,794.6 L632.7,794.8 L633.6,794.8 L634.6,794.6 L635.6,794.4 L636.6,794.2 L637.6,793.9 L638.6,793.7 L639.6,793.5 L640.6,793.3 L641.5,793.1 L642.5,792.9 L643.5,792.7 L644.5,792.6 L645.5,792.6 L646.5,792.7 L647.5,792.9 L648.5,793.1 L649.5,793.3 L650.4,793.5 L651.4,793.8 L652.3,794.2 L653.2,794.5 L654.2,794.9 L655.1,795.3 L656.0,795.6 L657.0,796.0 L657.9,796.3 L658.8,796.7 L659.8,797.1 L660.7,797.4 L661.6,797.8 L662.6,798.1 L663.5,798.4 L664.5,798.8 L665.4,799.1 L666.4,799.3 L667.4,799.6 L668.3,799.9 L669.3,800.1 L670.3,800.4 L671.2,800.7 L672.2,800.9 L673.2,801.2 L674.1,801.5 L675.0,801.9 L676.0,802.2 L676.9,802.6 L677.8,803.0 L678.7,803.4 L679.6,803.9 L680.5,804.3 L681.4,804.8 L682.2,805.3 L683.1,805.8 L684.0,806.2 L684.9,806.7 L685.8,807.1 L686.7,807.5 L687.6,808.0 L688.5,808.4 L689.4,808.9 L690.4,809.3 L691.3,809.7 L692.2,810.1 L693.1,810.4 L694.1,810.6 L695.1,810.8 L696.0,811.0 L697.0,811.2 L698.0,811.3 L699.0,811.5 L700.0,811.6 L701.0,811.8 L702.0,811.9 L703.0,812.0 L704.0,812.1 L705.0,812.3 L706.0,812.4 L707.0,812.5 L707.9,812.7 L708.9,812.8 L709.9,812.9 L710.9,813.0 L711.9,813.2 L712.9,813.3 L713.9,813.4 L714.9,813.5 L715.9,813.6 L716.9,813.8 L717.9,813.9 L718.9,814.0 L719.9,814.1 L720.8,814.3 L721.8,814.4 L722.8,814.5 L723.8,814.7 L724.8,814.8 L725.8,814.9 L726.8,815.0 L727.8,815.2 L728.8,815.3 L729.8,815.4 L730.8,815.5 L731.8,815.6 L732.8,815.6 L733.8,815.7 L734.8,815.8 L735.8,815.9 L736.8,815.9 L737.8,816.0 L738.8,816.1 L739.7,816.2 L740.7,816.3 L741.7,816.4 L742.7,816.4 L743.7,816.5 L744.7,816.6 L745.7,816.7 L746.7,816.8 L747.7,816.9 L748.7,817.1 L749.7,817.2 L750.7,817.3 L751.7,817.5 L752.7,817.6 L753.6,817.8 L754.6,818.0 L755.6,818.1 L756.6,818.3 L757.6,818.4 L758.6,818.6 L759.6,818.7 L760.6,818.8 L761.6,819.0 L762.6,819.1 L763.5,819.2 L764.5,819.3 L765.5,819.4 L766.5,819.6 L767.5,819.7 L768.5,819.8 L769.5,819.9 L770.5,820.0 L906.8,820.0"/>
<path stroke="#FFFF00" d="M153.2,820.0 L480.1,820.0 L481.2,820.0 L482.2,819.9 L483.2,819.8 L484.2,819.7 L485.1,819.6 L486.1,819.4 L487.0,818.9 L487.9,818.4 L488.7,817.8 L489.4,817.2 L490.2,816.5 L490.8,815.7 L491.5,814.9 L492.1,814.2 L492.7,813.4 L493.3,812.6 L493.9,811.7 L494.4,810.9 L495.0,810.0 L495.4,809.2 L495.9,808.3 L496.3,807.4 L496.8,806.5 L497.2,805.6 L497.6,804.7 L498.1,803.8 L498.5,802.9 L498.9,802.0 L499.4,801.0 L499.8,800.1 L500.2,799.2 L500.7,798.3 L501.1,797.4 L501.6,796.6 L502.1,795.7 L502.6,794.9 L503.1,794.0 L503.7,793.1 L504.3,792.3 L504.9,791.5 L505.5,790.8 L506.1,790.0 L506.9,789.3 L507.6,788.7 L508.4,788.1 L509.2,787.4 L510.0,786.8 L510.7,786.1 L511.4,785.4 L512.0,784.6 L512.7,783.8 L513.3,783.0 L513.9,782.3 L514.6,781.6 L515.4,780.8 L516.0,780.1 L516.3,779.2 L516.6,778.3 L516.8,777.3 L517.0,776.3 L517.2,775.3 L517.4,774.3 L517.7,773.3 L517.9,772.3 L518.2,771.4 L518.4,770.4 L518.7,769.4 L519.0,768.4 L519.2,767.5 L519.4,766.5 L519.7,765.5 L519.9,764.6 L520.1,763.6 L520.3,762.6 L520.5,761.6 L520.6,760.6 L520.8,759.7 L521.0,758.7 L521.2,757.7 L521.3,756.7 L521.5,755.7 L521.6,754.7 L521.8,753.7 L521.9,752.7 L522.0,751.7 L522.2,750.8 L522.3,749.8 L522.4,748.8 L522.5,747.8 L522.6,746.8 L522.7,745.8 L522.8,744.8 L522.9,743.8 L523.0,742.8 L523.1,741.8 L523.2,740.8 L523.3,739.8 L523.4,738.8 L523.4,737.8 L523.5,736.8 L523.6,735.8 L523.7,734.8 L523.8,733.8 L523.9,732.8 L524.0,731.8 L524.0,730.8 L524.1,729.8 L524.2,728.8 L524.3,727.8 L524.4,726.9 L524.4,725.9 L524.5,724.9 L524.6,723.9 L524.7,722.9 L524.7,721.9 L524.8,720.9 L524.9,719.9 L525.0,718.9 L525.1,717.9 L525.1,716.9 L525.2,715.9 L525.3,714.9 L525.4,713.9 L525.4,712.9 L525.5,711.9 L525.6,710.9 L525.7,709.9 L525.7,708.9 L525.8,707.9 L525.9,706.9 L526.0,705.9 L526.0,704.9 L526.1,703.9 L526.2,702.9 L526.3,701.9 L526.3,700.9 L526.4,699.9 L526.5,698.9 L526.6,697.9 L526.6,696.9 L526.7,695.9 L526.8,694.9 L526.9,693.9 L527.0,693.0 L527.1,692.0 L527.2,691.0 L527.3,690.0 L527.3,689.0 L527.4,688.0 L527.5,687.0 L527.6,686.0 L527.7,685.0 L527.8,684.0 L527.9,683.0 L527.9,682.0 L528.0,681.0 L528.1,680.0 L528.2,679.0 L528.3,678.0 L528.3,677.0 L528.4,676.0 L528.5,675.0 L528.5,674.0 L528.6,673.0 L528.7,672.0 L528.7,671.0 L528.8,670.0 L528.9,669.0 L528.9,668.0 L529.0,667.0 L529.1,666.0 L529.1,665.0 L529.2,664.0 L529.2,663.0 L529.3,662.0 L529.4,661.0 L529.4,660.0 L529.5,659.0 L529.5,658.0 L529.6,657.0 L529.6,656.0 L529.7,655.1 L529.8,654.1 L529.8,653.1 L529.9,652.1 L529.9,651.1 L530.0,650.1 L530.0,649.1 L530.1,648.1 L530.1,647.1 L530.2,646.1 L530.2,645.1 L530.2,644.1 L530.3,643.1 L530.3,642.1 L530.4,641.1 L530.4,640.1 L530.5,639.1 L530.5,638.1 L530.5,637.1 L530.6,636.1 L530.6,635.1 L530.6,634.1 L530.7,633.1 L530.7,632.1 L530.8,631.1 L530.8,630.1 L530.8,629.1 L530.9,628.1 L530.9,627.1 L530.9,626.1 L531.0,625.1 L531.0,624.1 L531.0,623.1 L531.1,622.1 L531.1,621.1 L531.1,620.1 L531.2,619.1 L531.2,618.1 L531.2,617.1 L531.3,616.1 L531.3,615.1 L531.3,614.1 L531.4,613.1 L531.4,612.1 L531.4,611.1 L531.5,610.1 L531.5,609.1 L531.5,608.1 L531.6,607.1 L531.6,606.1 L531.6,605.1 L531.7,604.1 L531.7,603.1 L531.7,602.1 L531.8,601.1 L531.8,600.1 L531.8,599.1 L531.9,598.1 L531.9,597.1 L531.9,596.1 L532.0,595.1 L532.0,594.1 L532.0,593.1 L532.0,592.1 L532.1,591.1 L532.1,590.1 L532.1,589.1 L532.2,588.1 L532.2,587.1 L532.2,586.1 L532.3,585.1 L532.3,584.1 L532.3,583.1 L532.4,582.1 L532.4,581.1 L532.4,580.1 L532.5,579.1 L532.5,578.1 L532.6,577.1 L532.6,576.1 L532.6,575.1 L532.7,574.1 L532.7,573.1 L532.8,572.1 L532.8,571.1 L532.8,570.1 L532.9,569.1 L532.9,568.1 L533.0,567.1 L533.0,566.1 L533.1,565.1 L533.1,564.1 L533.2,563.1 L533.2,562.1 L533.3,561.1 L533.3,560.1 L533.4,559.1 L533.4,558.1 L533.4,557.1 L533.5,556.1 L533.5,555.1 L533.6,554.1 L533.6,553.1 L533.7,552.1 L533.7,551.1 L533.8,550.1 L533.8,549.1 L533.9,548.1 L533.9,547.1 L534.0,546.1 L534.0,545.1 L534.0,544.1 L534.1,543.1 L534.1,542.1 L534.2,541.1 L534.2,540.1 L534.2,539.1 L534.3,538.1 L534.3,537.1 L534.3,536.1 L534.4,535.1 L534.4,534.1 L534.4,533.1 L534.5,532.1 L534.5,531.1 L534.5,530.1 L534.6,529.1 L534.6,528.1 L534.6,527.1 L534.7,526.1 L534.7,525.1 L534.7,524.2 L534.7,523.2 L534.8,522.2 L534.8,521.2 L534.8,520.2 L534.9,519.2 L534.9,518.2 L534.9,517.2 L535.0,516.2 L535.0,515.2 L535.0,514.2 L535.0,513.2 L535.1,512.2 L535.1,511.2 L535.1,510.2 L535.1,509.2 L535.2,508.2 L535.2,507.2 L535.2,506.2 L535.3,505.2 L535.3,504.2 L535.3,503.2 L535.3,502.2 L535.4,501.2 L535.4,500.2 L535.4,499.2 L535.5,498.2 L535.5,497.2 L535.5,496.2 L535.5,495.2 L535.6,494.2 L535.6,493.2 L535.6,492.2 L535.7,491.2 L535.7,490.2 L535.7,489.2 L535.7,488.2 L535.8,487.2 L535.8,486.2 L535.8,485.2 L535.9,484.2 L535.9,483.2 L535.9,482.2 L536.0,481.2 L536.0,480.2 L536.0,479.2 L536.1,478.2 L536.1,477.2 L536.1,476.2 L536.2,475.2 L536.2,474.2 L536.2,473.2 L536.3,472.2 L536.3,471.2 L536.3,470.2 L536.4,469.2 L536.4,468.2 L536.4,467.2 L536.5,466.2 L536.5,465.2 L536.6,464.2 L536.6,463.2 L536.6,462.2 L536.7,461.2 L536.7,460.2 L536.7,459.2 L536.8,458.2 L536.8,457.2 L536.9,456.2 L536.9,455.2 L536.9,454.2 L537.0,453.2 L537.0,452.2 L537.1,451.2 L537.1,450.2 L537.1,449.2 L537.2,448.2 L537.2,447.2 L537.3,446.2 L537.3,445.2 L537.3,444.2 L537.4,443.2 L537.4,442.2 L537.5,441.2 L537.5,440.2 L537.5,439.2 L537.6,438.2 L537.6,437.2 L537.7,436.2 L537.7,435.2 L537.7,434.2 L537.8,433.2 L537.8,432.2 L537.9,431.2 L537.9,430.2 L537.9,429.2 L538.0,428.2 L538.0,427.2 L538.1,426.2 L538.1,425.2 L538.1,424.2 L538.2,423.2 L538.2,422.2 L538.2,421.2 L538.3,420.2 L538.3,419.2 L538.4,418.2 L538.4,417.2 L538.4,416.2 L538.5,415.2 L538.5,414.2 L538.6,413.2 L538.6,412.2 L538.6,411.2 L538.7,410.2 L538.7,409.2 L538.8,408.2 L538.8,407.2 L538.8,406.2 L538.9,405.2 L538.9,404.2 L538.9,403.2 L539.0,402.2 L539.0,401.2 L539.0,400.2 L539.1,399.2 L539.1,398.2 L539.2,397.2 L539.2,396.2 L539.2,395.2 L539.3,394.2 L539.3,393.2 L539.3,392.2 L539.4,391.2 L539.4,390.2 L539.4,389.2 L539.5,388.2 L539.5,387.2 L539.5,386.2 L539.6,385.2 L539.6,384.2 L539.6,383.2 L539.7,382.2 L539.7,381.2 L539.7,380.2 L539.8,379.2 L539.8,378.2 L539.8,377.2 L539.9,376.2 L539.9,375.2 L539.9,374.2 L540.0,373.2 L540.0,372.2 L540.0,371.2 L540.1,370.2 L540.1,369.2 L540.1,368.2 L540.2,367.2 L540.2,366.2 L540.2,365.2 L540.3,364.2 L540.3,363.2 L540.3,362.2 L540.4,361.2 L540.4,360.2 L540.4,359.2 L540.5,358.2 L540.5,357.3 L540.5,356.3 L540.6,355.3 L540.6,354.3 L540.6,353.3 L540.7,352.3 L540.7,351.3 L540.7,350.3 L540.8,349.3 L540.8,348.3 L540.8,347.3 L540.9,346.3 L540.9,345.3 L540.9,344.3 L541.0,343.3 L541.0,342.3 L541.0,341.3 L541.1,340.3 L541.1,339.3 L541.1,338.3 L541.1,337.3 L541.2,336.3 L541.2,335.3 L541.2,334.3 L541.3,333.3 L541.3,332.3 L541.3,331.3 L541.4,330.3 L541.4,329.3 L541.4,328.3 L541.5,327.3 L541.5,326.3 L541.5,325.3 L541.5,324.3 L541.6,323.3 L541.6,322.3 L541.6,321.3 L541.7,320.3 L541.7,319.3 L541.7,318.3 L541.8,317.3 L541.8,316.3 L541.8,315.3 L541.9,314.3 L541.9,313.3 L541.9,312.3 L542.0,311.3 L542.0,310.3 L542.0,309.3 L542.1,308.3 L542.1,307.3 L542.2,306.3 L542.2,305.3 L542.2,304.3 L542.3,303.3 L542.3,302.3 L542.3,301.3 L542.4,300.3 L542.4,299.3 L542.5,298.3 L542.5,297.3 L542.6,296.3 L542.6,295.3 L542.7,294.3 L542.7,293.3 L542.8,292.3 L542.8,291.3 L542.9,290.3 L542.9,289.3 L543.0,288.3 L543.0,287.3 L543.1,286.3 L543.1,285.3 L543.2,284.3 L543.2,283.3 L543.3,282.3 L543.3,281.3 L543.4,280.3 L543.4,279.3 L543.5,278.3 L543.5,277.3 L543.6,276.3 L543.6,275.3 L543.7,274.3 L543.7,273.3 L543.8,272.3 L543.8,271.3 L543.9,270.3 L543.9,269.3 L544.0,268.3 L544.0,267.3 L544.1,266.3 L544.1,265.3 L544.2,264.3 L544.2,263.3 L544.2,262.3 L544.3,261.3 L544.3,260.3 L544.4,259.3 L544.4,258.3 L544.5,257.3 L544.5,256.3 L544.5,255.3 L544.6,254.3 L544.6,253.3 L544.7,252.3 L544.7,251.3 L544.7,250.3 L544.8,249.3 L544.8,248.3 L544.9,247.3 L544.9,246.3 L544.9,245.3 L545.0,244.3 L545.0,243.3 L545.1,242.3 L545.1,241.3 L545.1,240.3 L545.2,239.3 L545.2,238.3 L545.2,237.3 L545.3,236.3 L545.3,235.3 L545.4,234.3 L545.4,233.4 L545.4,232.4 L545.5,231.4 L545.5,230.4 L545.5,229.4 L545.6,228.4 L545.6,227.4 L545.6,226.4 L545.7,225.4 L545.7,224.4 L545.7,223.4 L545.7,222.4 L545.8,221.4 L545.8,220.4 L545.8,219.4 L545.9,218.4 L545.9,217.4 L545.9,216.4 L546.0,215.4 L546.0,214.4 L546.0,213.4 L546.1,212.4 L546.1,211.4 L546.1,210.4 L546.2,209.4 L546.2,208.4 L546.3,207.4 L546.3,206.4 L546.3,205.4 L546.4,204.4 L546.4,203.4 L546.5,202.4 L546.5,201.4 L546.6,200.4 L546.6,199.4 L546.7,198.4 L546.8,197.4 L546.8,196.4 L546.9,195.4 L547.0,194.4 L547.0,193.4 L547.1,192.4 L547.2,191.4 L547.2,190.4 L547.3,189.4 L547.4,188.4 L547.4,187.4 L547.5,186.4 L547.6,185.4 L547.7,184.4 L547.7,183.4 L547.8,182.4 L547.9,181.4 L548.0,180.4 L548.0,179.4 L548.1,178.4 L548.2,177.4 L548.2,176.4 L548.3,175.4 L548.4,174.4 L548.4,173.4 L548.5,172.4 L548.6,171.4 L548.7,170.4 L548.7,169.4 L548.8,168.4 L548.9,167.4 L549.0,166.4 L549.1,165.4 L549.2,164.4 L549.3,163.4 L549.4,162.5 L549.5,161.5 L549.6,160.5 L549.8,159.4 L550.0,158.2 L550.3,156.9 L550.5,155.7 L550.8,154.4 L551.1,153.2 L551.5,152.1 L551.8,151.2 L552.1,150.4 L552.4,149.9 L552.7,149.6 L553.0,149.7 L553.3,150.0 L553.6,150.6 L553.9,151.5 L554.2,152.5 L554.6,153.6 L554.9,154.8 L555.1,156.1 L555.4,157.4 L555.6,158.6 L555.8,159.8 L556.0,160.8 L556.1,161.8 L556.3,162.8 L556.4,163.8 L556.5,164.8 L556.6,165.7 L556.7,166.7 L556.7,167.7 L556.8,168.7 L556.9,169.7 L557.0,170.7 L557.0,171.7 L557.1,172.7 L557.2,173.7 L557.2,174.7 L557.3,175.7 L557.4,176.8 L557.4,177.8 L557.5,178.8 L557.6,179.8 L557.7,180.7 L557.7,181.7 L557.8,182.7 L557.9,183.7 L558.0,184.7 L558.0,185.7 L558.1,186.7 L558.2,187.7 L558.2,188.7 L558.3,189.7 L558.4,190.7 L558.5,191.7 L558.5,192.7 L558.6,193.7 L558.7,194.7 L558.7,195.7 L558.8,196.7 L558.8,197.7 L558.9,198.7 L559.0,199.7 L559.0,200.7 L559.1,201.7 L559.1,202.7 L559.2,203.7 L559.2,204.7 L559.3,205.7 L559.3,206.7 L559.4,207.7 L559.4,208.7 L559.5,209.7 L559.5,210.7 L559.6,211.7 L559.6,212.7 L559.6,213.7 L559.7,214.7 L559.7,215.7 L559.8,216.7 L559.8,217.7 L559.8,218.7 L559.9,219.7 L559.9,220.7 L559.9,221.7 L560.0,222.7 L560.0,223.7 L560.1,224.7 L560.1,225.7 L560.1,226.7 L560.2,227.7 L560.2,228.7 L560.2,229.7 L560.3,230.7 L560.3,231.7 L560.4,232.7 L560.4,233.7 L560.4,234.7 L560.5,235.7 L560.5,236.7 L560.6,237.7 L560.6,238.7 L560.7,239.7 L560.7,240.7 L560.8,241.7 L560.8,242.7 L560.8,243.7 L560.9,244.7 L560.9,245.7 L561.0,246.7 L561.0,247.7 L561.1,248.7 L561.1,249.7 L561.2,250.7 L561.2,251.7 L561.3,252.7 L561.3,253.7 L561.4,254.7 L561.4,255.6 L561.5,256.6 L561.5,257.6 L561.6,258.6 L561.6,259.6 L561.7,260.6 L561.7,261.6 L561.7,262.6 L561.8,263.6 L561.8,264.6 L561.9,265.6 L561.9,266.6 L562.0,267.6 L562.0,268.6 L562.1,269.6 L562.1,270.6 L562.2,271.6 L562.2,272.6 L562.3,273.6 L562.3,274.6 L562.4,275.6 L562.4,276.6 L562.5,277.6 L562.5,278.6 L562.6,279.6 L562.6,280.6 L562.6,281.6 L562.7,282.6 L562.7,283.6 L562.8,284.6 L562.8,285.6 L562.9,286.6 L562.9,287.6 L563.0,288.6 L563.0,289.6 L563.1,290.6 L563.1,291.6 L563.2,292.6 L563.2,293.6 L563.3,294.6 L563.3,295.6 L563.3,296.6 L563.4,297.6 L563.4,298.6 L563.5,299.6 L563.5,300.6 L563.6,301.6 L563.6,302.6 L563.7,303.6 L563.7,304.6 L563.7,305.6 L563.8,306.6 L563.8,307.6 L563.9,308.6 L563.9,309.6 L564.0,310.6 L564.0,311.6 L564.0,312.6 L564.1,313.6 L564.1,314.6 L564.2,315.6 L564.2,316.6 L564.2,317.6 L564.3,318.6 L564.3,319.6 L564.4,320.6 L564.4,321.6 L564.4,322.6 L564.5,323.6 L564.5,324.6 L564.6,325.6 L564.6,326.6 L564.6,327.6 L564.7,328.6 L564.7,329.6 L564.7,330.6 L564.8,331.6 L564.8,332.6 L564.9,333.6 L564.9,334.6 L564.9,335.6 L565.0,336.6 L565.0,337.6 L565.0,338.6 L565.1,339.6 L565.1,340.6 L565.1,341.6 L565.2,342.6 L565.2,343.6 L565.2,344.6 L565.3,345.6 L565.3,346.6 L565.3,347.6 L565.4,348.6 L565.4,349.6 L565.4,350.6 L565.5,351.6 L565.5,352.6 L565.5,353.6 L565.6,354.6 L565.6,355.6 L565.6,356.6 L565.7,357.6 L565.7,358.6 L565.7,359.6 L565.7,360.6 L565.8,361.6 L565.8,362.6 L565.8,363.6 L565.9,364.6 L565.9,365.6 L565.9,366.6 L566.0,367.6 L566.0,368.6 L566.0,369.6 L566.1,370.6 L566.1,371.6 L566.1,372.6 L566.2,373.6 L566.2,374.6 L566.2,375.5 L566.3,376.5 L566.3,377.5 L566.3,378.5 L566.4,379.5 L566.4,380.5 L566.5,381.5 L566.5,382.5 L566.5,383.5 L566.6,384.5 L566.6,385.5 L566.6,386.5 L566.7,387.5 L566.7,388.5 L566.8,389.5 L566.8,390.5 L566.8,391.5 L566.9,392.5 L566.9,393.5 L566.9,394.5 L567.0,395.5 L567.0,396.5 L567.1,397.5 L567.1,398.5 L567.1,399.5 L567.2,400.5 L567.2,401.5 L567.3,402.5 L567.3,403.5 L567.3,404.5 L567.4,405.5 L567.4,406.5 L567.5,407.5 L567.5,408.5 L567.6,409.5 L567.6,410.5 L567.6,411.5 L567.7,412.5 L567.7,413.5 L567.8,414.5 L567.8,415.5 L567.8,416.5 L567.9,417.5 L567.9,418.5 L568.0,419.5 L568.0,420.5 L568.1,421.5 L568.1,422.5 L568.2,423.5 L568.2,424.5 L568.2,425.5 L568.3,426.5 L568.3,427.5 L568.4,428.5 L568.4,429.5 L568.5,430.5 L568.5,431.5 L568.6,432.5 L568.6,433.5 L568.7,434.5 L568.7,435.5 L568.7,436.5 L568.8,437.5 L568.8,438.5 L568.9,439.5 L568.9,440.5 L569.0,441.5 L569.0,442.5 L569.1,443.5 L569.1,444.5 L569.2,445.5 L569.2,446.5 L569.3,447.5 L569.3,448.5 L569.4,449.5 L569.4,450.5 L569.5,451.5 L569.5,452.5 L569.6,453.5 L569.6,454.5 L569.7,455.5 L569.7,456.5 L569.8,457.5 L569.8,458.5 L569.9,459.5 L569.9,460.5 L570.0,461.5 L570.0,462.5 L570.1,463.5 L570.1,464.5 L570.2,465.5 L570.2,466.5 L570.3,467.5 L570.3,468.5 L570.4,469.5 L570.4,470.5 L570.5,471.5 L570.6,472.5 L570.6,473.5 L570.7,474.5 L570.7,475.4 L570.8,476.4 L570.8,477.4 L570.9,478.4 L571.0,479.4 L571.0,480.4 L571.1,481.4 L571.2,482.4 L571.2,483.4 L571.3,484.4 L571.3,485.4 L571.4,486.4 L571.5,487.4 L571.5,488.4 L571.6,489.4 L571.7,490.4 L571.7,491.4 L571.8,492.4 L571.9,493.4 L571.9,494.4 L572.0,495.4 L572.1,496.4 L572.2,497.4 L572.2,498.4 L572.3,499.4 L572.4,500.4 L572.4,501.4 L572.5,502.4 L572.6,503.4 L572.7,504.4 L572.7,505.4 L572.8,506.4 L572.9,507.4 L573.0,508.4 L573.0,509.4 L573.1,510.4 L573.2,511.4 L573.3,512.4 L573.4,513.4 L573.4,514.4 L573.5,515.4 L573.6,516.4 L573.7,517.4 L573.8,518.4 L573.9,519.3 L573.9,520.3 L574.0,521.3 L574.1,522.3 L574.2,523.3 L574.3,524.3 L574.4,525.3 L574.5,526.3 L574.6,527.3 L574.6,528.3 L574.7,529.3 L574.8,530.3 L574.9,531.3 L575.0,532.3 L575.1,533.3 L575.2,534.3 L575.3,535.3 L575.4,536.3 L575.5,537.3 L575.6,538.3 L575.7,539.3 L575.8,540.2 L575.9,541.2 L576.0,542.2 L576.2,543.2 L576.3,544.2 L576.4,545.2 L576.6,546.2 L576.7,547.2 L576.8,548.2 L577.0,549.2 L577.1,550.2 L577.3,551.2 L577.4,552.1 L577.5,553.1 L577.7,554.1 L577.8,555.1 L577.9,556.1 L578.1,557.1 L578.2,558.1 L578.3,559.1 L578.5,560.1 L578.6,561.1 L578.7,562.1 L578.8,563.1 L578.9,564.0 L579.1,565.0 L579.2,566.0 L579.3,567.0 L579.4,568.0 L579.5,569.0 L579.7,570.0 L579.8,571.0 L579.9,572.0 L580.1,573.0 L580.2,574.0 L580.4,574.9 L580.5,575.9 L580.7,576.9 L580.9,577.9 L581.0,578.9 L581.2,579.9 L581.4,580.9 L581.6,581.8 L581.7,582.8 L581.9,583.8 L582.1,584.8 L582.3,585.8 L582.4,586.8 L582.6,587.8 L582.8,588.7 L583.0,589.7 L583.1,590.7 L583.3,591.7 L583.5,592.7 L583.7,593.7 L583.9,594.6 L584.0,595.6 L584.2,596.6 L584.4,597.6 L584.6,598.6 L584.8,599.6 L585.0,600.6 L585.1,601.5 L585.3,602.5 L585.4,603.5 L585.6,604.5 L585.7,605.5 L585.9,606.5 L586.0,607.5 L586.1,608.5 L586.2,609.5 L586.3,610.4 L586.4,611.4 L586.5,612.4 L586.6,613.4 L586.7,614.4 L586.8,615.4 L586.9,616.4 L587.0,617.4 L587.1,618.4 L587.2,619.4 L587.2,620.4 L587.3,621.4 L587.4,622.4 L587.5,623.4 L587.6,624.4 L587.7,625.4 L587.8,626.4 L587.9,627.4 L588.0,628.4 L588.1,629.4 L588.2,630.4 L588.3,631.4 L588.4,632.3 L588.5,633.3 L588.6,634.3 L588.7,635.3 L588.8,636.3 L588.9,637.3 L589.0,638.3 L589.1,639.3 L589.2,640.3 L589.3,641.3 L589.4,642.3 L589.5,643.3 L589.6,644.3 L589.7,645.3 L589.8,646.3 L589.9,647.3 L590.0,648.3 L590.1,649.3 L590.2,650.3 L590.3,651.3 L590.4,652.3 L590.5,653.2 L590.6,654.2 L590.7,655.2 L590.9,656.2 L591.0,657.2 L591.1,658.2 L591.2,659.2 L591.3,660.2 L591.5,661.2 L591.6,662.2 L591.7,663.2 L591.9,664.2 L592.0,665.2 L592.1,666.1 L592.2,667.1 L592.4,668.1 L592.5,669.1 L592.6,670.1 L592.7,671.1 L592.9,672.1 L593.0,673.1 L593.1,674.1 L593.2,675.1 L593.3,676.1 L593.4,677.1 L593.5,678.1 L593.6,679.1 L593.8,680.1 L593.9,681.0 L594.0,682.0 L594.1,683.0 L594.2,684.0 L594.3,685.0 L594.4,686.0 L594.6,687.0 L594.7,688.0 L594.8,689.0 L594.9,690.0 L595.1,691.0 L595.2,692.0 L595.3,693.0 L595.5,693.9 L595.6,694.9 L595.8,695.9 L595.9,696.9 L596.0,697.9 L596.2,698.9 L596.3,699.9 L596.5,700.9 L596.6,701.9 L596.8,702.9 L596.9,703.8 L597.1,704.8 L597.3,705.8 L597.5,706.8 L597.6,707.8 L597.8,708.8 L598.0,709.7 L598.2,710.7 L598.5,711.7 L598.7,712.7 L598.9,713.6 L599.2,714.6 L599.5,715.6 L599.7,716.5 L600.0,717.5 L600.3,718.5 L600.6,719.4 L600.8,720.4 L601.1,721.4 L601.5,722.4 L601.8,723.3 L602.2,724.2 L602.6,725.0 L603.2,725.9 L603.8,726.8 L604.5,727.6 L605.2,728.3 L606.0,728.8 L606.8,729.2 L607.8,729.6 L608.8,729.9 L609.8,730.1 L610.8,730.2 L611.7,730.1 L612.6,729.7 L613.5,729.2 L614.4,728.6 L615.3,728.0 L616.1,727.5 L616.9,726.8 L617.8,726.0 L618.6,725.3 L619.4,724.6 L620.2,724.2 L621.0,724.0 L621.9,724.2 L622.9,724.8 L623.7,725.5 L624.3,726.2 L624.7,727.0 L625.1,727.9 L625.5,728.9 L625.8,729.9 L626.0,730.9 L626.2,731.9 L626.4,732.9 L626.6,733.8 L626.8,734.8 L627.0,735.8 L627.3,736.8 L627.5,737.7 L627.8,738.7 L628.0,739.7 L628.2,740.7 L628.5,741.6 L628.7,742.6 L628.9,743.6 L629.1,744.6 L629.4,745.5 L629.6,746.5 L629.8,747.5 L630.0,748.5 L630.2,749.4 L630.4,750.4 L630.6,751.4 L630.8,752.4 L631.0,753.4 L631.2,754.3 L631.4,755.3 L631.6,756.3 L631.7,757.3 L631.9,758.3 L632.1,759.3 L632.3,760.2 L632.5,761.2 L632.7,762.2 L632.8,763.2 L633.0,764.2 L633.2,765.1 L633.4,766.1 L633.6,767.1 L633.8,768.1 L634.0,769.1 L634.2,770.1 L634.4,771.0 L634.6,772.0 L634.8,773.0 L635.0,774.0 L635.2,775.0 L635.4,775.9 L635.6,776.9 L635.8,777.9 L636.1,778.9 L636.3,779.8 L636.5,780.8 L636.7,781.8 L636.9,782.8 L637.2,783.7 L637.4,784.7 L637.6,785.7 L637.8,786.7 L638.1,787.7 L638.3,788.6 L638.6,789.6 L638.8,790.6 L639.1,791.5 L639.4,792.5 L639.7,793.4 L640.0,794.4 L640.3,795.3 L640.7,796.3 L641.0,797.3 L641.4,798.3 L641.9,799.1 L642.4,799.8 L643.2,800.5 L644.0,801.2 L645.0,801.6 L645.9,801.5 L646.8,801.2 L647.7,800.7 L648.6,800.2 L649.6,799.8 L650.6,799.5 L651.6,799.2 L652.6,799.0 L653.5,799.0 L654.4,799.4 L655.2,800.0 L656.0,800.7 L656.7,801.5 L657.3,802.2 L657.9,803.0 L658.4,803.8 L658.9,804.7 L659.3,805.7 L659.8,806.6 L660.2,807.5 L660.7,808.4 L661.2,809.3 L661.7,810.2 L662.3,811.0 L662.8,811.8 L663.4,812.7 L664.1,813.5 L664.7,814.2 L665.4,815.0 L666.0,815.7 L666.8,816.3 L667.6,816.9 L668.4,817.5 L669.3,818.1 L670.1,818.6 L671.1,819.0 L672.0,819.2 L673.0,819.5 L673.9,819.8 L674.9,819.9 L675.9,820.0 L906.9,820.0"/>
<path stroke="#BEBEBE" d="M153.2,820.0 L464.1,820.0 L465.1,820.0 L466.1,819.9 L467.1,819.8 L468.1,819.7 L469.1,819.5 L470.1,819.3 L471.1,819.2 L472.1,819.0 L473.1,818.8 L474.0,818.5 L475.0,818.3 L476.0,817.9 L477.0,817.6 L477.9,817.2 L478.8,816.8 L479.7,816.4 L480.5,815.9 L481.3,815.4 L482.1,814.8 L482.8,814.1 L483.5,813.3 L484.3,812.6 L485.0,811.8 L485.7,811.1 L486.4,810.4 L487.1,809.7 L487.8,809.0 L488.5,808.3 L489.2,807.5 L489.8,806.8 L490.5,806.0 L491.1,805.3 L491.7,804.5 L492.3,803.7 L492.8,802.8 L493.3,802.0 L493.9,801.1 L494.4,800.2 L494.8,799.3 L495.3,798.5 L495.8,797.6 L496.2,796.7 L496.6,795.8 L497.0,794.9 L497.4,793.9 L497.8,793.0 L498.2,792.1 L498.5,791.2 L498.9,790.2 L499.3,789.3 L499.6,788.4 L500.0,787.4 L500.4,786.5 L500.8,785.6 L501.2,784.7 L501.6,783.8 L502.0,782.8 L502.5,781.9 L502.8,781.0 L503.2,780.1 L503.5,779.1 L503.8,778.2 L504.0,777.2 L504.3,776.3 L504.6,775.3 L504.8,774.3 L505.1,773.4 L505.3,772.4 L505.5,771.4 L505.8,770.4 L506.0,769.5 L506.2,768.5 L506.4,767.5 L506.6,766.5 L506.8,765.5 L507.0,764.6 L507.2,763.6 L507.4,762.6 L507.7,761.6 L507.9,760.6 L508.1,759.7 L508.3,758.7 L508.5,757.7 L508.7,756.7 L508.9,755.7 L509.1,754.8 L509.3,753.8 L509.5,752.8 L509.7,751.8 L509.9,750.8 L510.1,749.9 L510.3,748.9 L510.5,747.9 L510.6,746.9 L510.8,745.9 L511.0,744.9 L511.2,744.0 L511.4,743.0 L511.6,742.0 L511.8,741.0 L512.0,740.0 L512.2,739.1 L512.4,738.1 L512.6,737.1 L512.8,736.1 L513.0,735.1 L513.2,734.2 L513.4,733.2 L513.5,732.2 L513.7,731.2 L513.9,730.2 L514.1,729.2 L514.3,728.3 L514.5,727.3 L514.7,726.3 L514.9,725.3 L515.1,724.3 L515.3,723.4 L515.5,722.4 L515.7,721.4 L515.9,720.4 L516.1,719.5 L516.3,718.5 L516.5,717.5 L516.8,716.5 L517.0,715.5 L517.2,714.6 L517.4,713.6 L517.6,712.6 L517.9,711.6 L518.1,710.7 L518.3,709.7 L518.5,708.7 L518.7,707.7 L519.0,706.8 L519.2,705.8 L519.4,704.8 L519.6,703.8 L519.8,702.9 L520.0,701.9 L520.2,700.9 L520.4,699.9 L520.6,698.9 L520.8,698.0 L521.0,697.0 L521.2,696.0 L521.3,695.0 L521.5,694.0 L521.7,693.0 L521.8,692.0 L522.0,691.1 L522.2,690.1 L522.3,689.1 L522.5,688.1 L522.7,687.1 L522.9,686.1 L523.0,685.1 L523.2,684.2 L523.4,683.2 L523.6,682.2 L523.7,681.2 L523.9,680.2 L524.1,679.3 L524.3,678.3 L524.5,677.3 L524.7,676.3 L524.9,675.3 L525.1,674.4 L525.3,673.4 L525.6,672.4 L525.8,671.4 L526.0,670.4 L526.2,669.5 L526.4,668.5 L526.5,667.5 L526.7,666.5 L526.9,665.5 L527.1,664.5 L527.3,663.6 L527.4,662.6 L527.6,661.6 L527.8,660.6 L527.9,659.6 L528.1,658.6 L528.2,657.6 L528.4,656.6 L528.5,655.7 L528.7,654.7 L528.8,653.7 L529.0,652.7 L529.1,651.7 L529.3,650.7 L529.4,649.7 L529.6,648.7 L529.7,647.8 L529.9,646.8 L530.1,645.8 L530.2,644.8 L530.4,643.8 L530.6,642.8 L530.8,641.8 L531.0,640.9 L531.2,639.9 L531.4,638.9 L531.6,637.9 L531.8,636.9 L532.0,636.0 L532.2,635.0 L532.4,634.0 L532.6,633.0 L532.8,632.0 L533.0,631.1 L533.2,630.1 L533.4,629.1 L533.6,628.1 L533.8,627.1 L533.9,626.2 L534.1,625.2 L534.3,624.2 L534.5,623.2 L534.7,622.2 L534.8,621.2 L535.0,620.2 L535.2,619.3 L535.4,618.3 L535.6,617.3 L535.8,616.3 L536.0,615.3 L536.2,614.4 L536.5,613.4 L536.7,612.4 L536.9,611.5 L537.2,610.5 L537.5,609.5 L537.7,608.6 L538.0,607.6 L538.3,606.6 L538.6,605.7 L538.9,604.7 L539.2,603.8 L539.6,602.8 L539.9,601.9 L540.2,600.9 L540.6,600.0 L541.0,599.1 L541.4,598.2 L541.7,597.3 L542.2,596.3 L542.6,595.4 L543.0,594.5 L543.5,593.6 L544.0,592.7 L544.5,591.8 L545.0,591.0 L545.6,590.2 L546.2,589.4 L546.9,588.7 L547.6,588.0 L548.4,587.3 L549.2,586.6 L550.1,586.1 L550.9,585.7 L551.8,585.4 L552.8,585.2 L553.8,585.0 L554.8,584.8 L555.8,584.7 L556.8,584.6 L557.8,584.6 L558.8,584.8 L559.7,585.1 L560.7,585.4 L561.7,585.7 L562.6,586.1 L563.6,586.3 L564.6,586.5 L565.6,586.8 L566.5,587.0 L567.5,587.3 L568.5,587.4 L569.5,587.6 L570.5,587.6 L571.5,587.6 L572.5,587.6 L573.5,587.6 L574.5,587.5 L575.5,587.5 L576.5,587.4 L577.5,587.4 L578.5,587.3 L579.5,587.2 L580.5,587.2 L581.5,587.0 L582.4,586.8 L583.4,586.6 L584.4,586.4 L585.4,586.1 L586.3,585.9 L587.3,585.6 L588.2,585.3 L589.2,585.0 L590.1,584.6 L591.1,584.3 L592.0,584.0 L593.0,583.6 L593.9,583.3 L594.8,582.9 L595.7,582.5 L596.7,582.1 L597.6,581.7 L598.5,581.3 L599.4,580.8 L600.3,580.4 L601.2,580.0 L602.1,579.6 L603.0,579.2 L604.0,578.8 L604.9,578.3 L605.8,577.8 L606.7,577.3 L607.6,576.9 L608.5,576.6 L609.5,576.4 L610.5,576.4 L611.5,576.3 L612.5,576.2 L613.5,576.2 L614.5,576.2 L615.4,576.3 L616.4,576.7 L617.3,577.2 L618.2,577.8 L619.0,578.4 L619.7,579.1 L620.3,579.7 L621.0,580.5 L621.5,581.3 L622.1,582.2 L622.6,583.1 L623.1,584.0 L623.6,584.9 L624.1,585.8 L624.6,586.7 L625.0,587.5 L625.5,588.4 L625.9,589.3 L626.3,590.3 L626.7,591.2 L627.1,592.1 L627.5,593.0 L627.9,594.0 L628.3,594.9 L628.6,595.8 L629.0,596.7 L629.3,597.7 L629.7,598.6 L630.0,599.6 L630.4,600.5 L630.7,601.4 L631.0,602.4 L631.3,603.3 L631.6,604.3 L631.9,605.2 L632.2,606.2 L632.5,607.2 L632.8,608.1 L633.1,609.1 L633.4,610.0 L633.7,611.0 L634.0,611.9 L634.3,612.9 L634.6,613.8 L634.9,614.8 L635.2,615.8 L635.5,616.7 L635.8,617.7 L636.1,618.6 L636.4,619.6 L636.6,620.5 L636.9,621.5 L637.2,622.5 L637.4,623.4 L637.7,624.4 L637.9,625.4 L638.1,626.4 L638.3,627.3 L638.5,628.3 L638.7,629.3 L638.9,630.3 L639.1,631.3 L639.3,632.2 L639.5,633.2 L639.6,634.2 L639.8,635.2 L640.0,636.2 L640.2,637.2 L640.4,638.1 L640.5,639.1 L640.7,640.1 L640.9,641.1 L641.1,642.1 L641.2,643.1 L641.4,644.1 L641.6,645.0 L641.8,646.0 L641.9,647.0 L642.1,648.0 L642.3,649.0 L642.5,650.0 L642.6,650.9 L642.8,651.9 L643.0,652.9 L643.1,653.9 L643.3,654.9 L643.5,655.9 L643.7,656.9 L643.8,657.8 L644.0,658.8 L644.2,659.8 L644.4,660.8 L644.5,661.8 L644.7,662.8 L644.9,663.7 L645.1,664.7 L645.3,665.7 L645.5,666.7 L645.6,667.7 L645.8,668.7 L646.0,669.6 L646.2,670.6 L646.4,671.6 L646.6,672.6 L646.7,673.6 L646.9,674.6 L647.1,675.5 L647.3,676.5 L647.5,677.5 L647.7,678.5 L647.9,679.5 L648.0,680.5 L648.2,681.4 L648.4,682.4 L648.6,683.4 L648.8,684.4 L649.0,685.4 L649.2,686.4 L649.3,687.3 L649.5,688.3 L649.7,689.3 L649.9,690.3 L650.1,691.3 L650.3,692.3 L650.4,693.2 L650.6,694.2 L650.8,695.2 L651.0,696.2 L651.2,697.2 L651.4,698.1 L651.5,699.1 L651.7,700.1 L651.9,701.1 L652.1,702.1 L652.3,703.1 L652.5,704.0 L652.6,705.0 L652.8,706.0 L653.0,707.0 L653.2,708.0 L653.4,709.0 L653.5,709.9 L653.7,710.9 L653.9,711.9 L654.1,712.9 L654.3,713.9 L654.5,714.9 L654.7,715.8 L654.8,716.8 L655.0,717.8 L655.2,718.8 L655.4,719.8 L655.6,720.7 L655.8,721.7 L656.1,722.7 L656.3,723.7 L656.5,724.7 L656.7,725.6 L656.9,726.6 L657.1,727.6 L657.3,728.6 L657.5,729.6 L657.7,730.5 L657.9,731.5 L658.1,732.5 L658.3,733.5 L658.5,734.5 L658.7,735.4 L658.9,736.4 L659.1,737.4 L659.3,738.4 L659.5,739.4 L659.7,740.3 L659.9,741.3 L660.1,742.3 L660.3,743.3 L660.5,744.2 L660.7,745.2 L660.9,746.2 L661.2,747.2 L661.4,748.2 L661.6,749.1 L661.8,750.1 L662.0,751.1 L662.2,752.1 L662.5,753.0 L662.7,754.0 L662.9,755.0 L663.1,756.0 L663.4,756.9 L663.6,757.9 L663.8,758.9 L664.1,759.8 L664.3,760.8 L664.5,761.8 L664.8,762.8 L665.0,763.7 L665.3,764.7 L665.5,765.7 L665.8,766.6 L666.0,767.6 L666.3,768.6 L666.5,769.5 L666.8,770.5 L667.1,771.5 L667.3,772.4 L667.6,773.4 L667.9,774.4 L668.1,775.3 L668.4,776.3 L668.7,777.2 L669.0,778.2 L669.3,779.2 L669.5,780.1 L669.8,781.1 L670.1,782.0 L670.4,783.0 L670.7,784.0 L671.0,784.9 L671.3,785.9 L671.6,786.8 L671.9,787.8 L672.3,788.7 L672.6,789.7 L672.9,790.6 L673.3,791.6 L673.6,792.5 L673.9,793.4 L674.3,794.4 L674.7,795.3 L675.0,796.2 L675.4,797.1 L675.8,798.1 L676.2,799.0 L676.6,799.9 L677.0,800.9 L677.5,801.8 L677.9,802.7 L678.4,803.6 L678.9,804.5 L679.3,805.3 L679.9,806.2 L680.4,807.0 L680.9,807.8 L681.5,808.6 L682.1,809.4 L682.8,810.1 L683.5,810.9 L684.2,811.6 L684.9,812.3 L685.7,813.0 L686.5,813.7 L687.3,814.3 L688.0,814.8 L688.9,815.4 L689.7,815.9 L690.6,816.4 L691.5,816.9 L692.4,817.4 L693.3,817.8 L694.3,818.1 L695.2,818.4 L696.2,818.6 L697.1,818.8 L698.1,819.0 L699.1,819.2 L700.1,819.4 L701.1,819.5 L702.1,819.6 L703.1,819.7 L704.1,819.7 L705.1,819.8 L706.1,819.9 L707.1,819.9 L708.1,820.0 L709.1,820.0 L906.9,820.0"/>
<path stroke="#FF0000" stroke-dasharray="6.25 6.25" d="M153.2,820.0 L497.2,820.0 L498.1,820.0 L499.1,819.8 L500.1,819.6 L501.1,819.3 L502.0,818.9 L502.9,818.4 L503.7,817.9 L504.6,817.3 L505.4,816.6 L506.1,815.9 L506.9,815.2 L507.5,814.4 L508.0,813.6 L508.4,812.8 L508.8,811.9 L509.1,810.9 L509.5,809.9 L509.8,809.0 L510.2,808.0 L510.6,807.1 L511.0,806.2 L511.4,805.3 L511.8,804.3 L512.1,803.4 L512.4,802.4 L512.6,801.5 L512.7,800.5 L512.9,799.5 L513.0,798.5 L513.1,797.5 L513.3,796.5 L513.4,795.5 L513.6,794.5 L513.8,793.6 L514.0,792.6 L514.2,791.6 L514.3,790.6 L514.5,789.6 L514.7,788.6 L514.9,787.7 L515.0,786.7 L515.2,785.7 L515.3,784.7 L515.5,783.7 L515.7,782.7 L516.0,781.8 L516.2,780.8 L516.4,779.8 L516.6,778.8 L516.8,777.8 L516.9,776.9 L517.1,775.9 L517.2,774.9 L517.4,773.9 L517.5,772.9 L517.6,771.9 L517.7,770.9 L517.8,769.9 L518.0,768.9 L518.1,767.9 L518.2,766.9 L518.3,765.9 L518.4,764.9 L518.5,764.0 L518.6,763.0 L518.7,762.0 L518.8,761.0 L518.9,760.0 L518.9,759.0 L519.0,758.0 L519.1,757.0 L519.2,756.0 L519.3,755.0 L519.4,754.0 L519.4,753.0 L519.5,752.0 L519.6,751.0 L519.7,750.0 L519.7,749.0 L519.8,748.0 L519.9,747.0 L520.0,746.0 L520.0,745.0 L520.1,744.0 L520.2,743.0 L520.3,742.0 L520.3,741.0 L520.4,740.0 L520.5,739.0 L520.5,738.0 L520.6,737.0 L520.7,736.0 L520.8,735.0 L520.9,734.0 L520.9,733.0 L521.0,732.1 L521.1,731.1 L521.2,730.1 L521.2,729.1 L521.3,728.1 L521.4,727.1 L521.5,726.1 L521.5,725.1 L521.6,724.1 L521.7,723.1 L521.7,722.1 L521.8,721.1 L521.8,720.1 L521.9,719.1 L522.0,718.1 L522.0,717.1 L522.1,716.1 L522.1,715.1 L522.2,714.1 L522.2,713.1 L522.3,712.1 L522.4,711.1 L522.4,710.1 L522.5,709.1 L522.5,708.1 L522.6,707.1 L522.6,706.1 L522.7,705.1 L522.7,704.1 L522.8,703.1 L522.9,702.1 L522.9,701.1 L523.0,700.1 L523.0,699.1 L523.1,698.1 L523.2,697.1 L523.2,696.1 L523.3,695.1 L523.3,694.1 L523.4,693.1 L523.5,692.1 L523.5,691.1 L523.6,690.1 L523.6,689.1 L523.7,688.1 L523.8,687.1 L523.8,686.1 L523.9,685.1 L524.0,684.1 L524.0,683.1 L524.1,682.1 L524.1,681.1 L524.2,680.1 L524.3,679.2 L524.3,678.2 L524.4,677.2 L524.4,676.2 L524.5,675.2 L524.6,674.2 L524.6,673.2 L524.7,672.2 L524.7,671.2 L524.8,670.2 L524.8,669.2 L524.9,668.2 L525.0,667.2 L525.0,666.2 L525.1,665.2 L525.1,664.2 L525.2,663.2 L525.3,662.2 L525.3,661.2 L525.4,660.2 L525.4,659.2 L525.5,658.2 L525.5,657.2 L525.6,656.2 L525.6,655.2 L525.7,654.2 L525.8,653.2 L525.8,652.2 L525.9,651.2 L525.9,650.2 L526.0,649.2 L526.0,648.2 L526.1,647.2 L526.1,646.2 L526.2,645.2 L526.2,644.2 L526.3,643.2 L526.3,642.2 L526.4,641.2 L526.4,640.2 L526.5,639.2 L526.5,638.2 L526.6,637.2 L526.6,636.2 L526.7,635.2 L526.7,634.2 L526.8,633.2 L526.8,632.2 L526.9,631.2 L526.9,630.2 L527.0,629.2 L527.0,628.2 L527.1,627.2 L527.1,626.2 L527.2,625.2 L527.2,624.2 L527.3,623.2 L527.3,622.2 L527.4,621.2 L527.4,620.2 L527.5,619.2 L527.5,618.2 L527.5,617.2 L527.6,616.2 L527.6,615.2 L527.7,614.2 L527.7,613.2 L527.8,612.2 L527.8,611.2 L527.9,610.2 L527.9,609.2 L528.0,608.2 L528.0,607.3 L528.1,606.3 L528.1,605.3 L528.2,604.3 L528.2,603.3 L528.3,602.3 L528.3,601.3 L528.4,600.3 L528.4,599.3 L528.5,598.3 L528.5,597.3 L528.6,596.3 L528.6,595.3 L528.7,594.3 L528.7,593.3 L528.8,592.3 L528.8,591.3 L528.9,590.3 L528.9,589.3 L529.0,588.3 L529.0,587.3 L529.1,586.3 L529.1,585.3 L529.2,584.3 L529.2,583.3 L529.3,582.3 L529.3,581.3 L529.4,580.3 L529.4,579.3 L529.5,578.3 L529.5,577.3 L529.6,576.3 L529.6,575.3 L529.7,574.3 L529.7,573.3 L529.8,572.3 L529.8,571.3 L529.9,570.3 L529.9,569.3 L530.0,568.3 L530.0,567.3 L530.1,566.3 L530.1,565.3 L530.2,564.3 L530.2,563.3 L530.3,562.3 L530.3,561.3 L530.4,560.3 L530.4,559.3 L530.5,558.3 L530.5,557.3 L530.6,556.3 L530.7,555.3 L530.7,554.3 L530.8,553.3 L530.8,552.3 L530.9,551.3 L530.9,550.3 L531.0,549.3 L531.0,548.3 L531.0,547.3 L531.1,546.3 L531.1,545.3 L531.2,544.3 L531.2,543.3 L531.3,542.3 L531.3,541.3 L531.4,540.3 L531.4,539.3 L531.5,538.3 L531.5,537.3 L531.6,536.3 L531.6,535.3 L531.7,534.3 L531.7,533.3 L531.8,532.3 L531.8,531.3 L531.8,530.3 L531.9,529.3 L531.9,528.3 L532.0,527.3 L532.0,526.3 L532.1,525.3 L532.1,524.4 L532.1,523.4 L532.2,522.4 L532.2,521.4 L532.3,520.4 L532.3,519.4 L532.4,518.4 L532.4,517.4 L532.4,516.4 L532.5,515.4 L532.5,514.4 L532.6,513.4 L532.6,512.4 L532.7,511.4 L532.7,510.4 L532.7,509.4 L532.8,508.4 L532.8,507.4 L532.9,506.4 L532.9,505.4 L533.0,504.4 L533.0,503.4 L533.0,502.4 L533.1,501.4 L533.1,500.4 L533.2,499.4 L533.2,498.4 L533.2,497.4 L533.3,496.4 L533.3,495.4 L533.4,494.4 L533.4,493.4 L533.5,492.4 L533.5,491.4 L533.5,490.4 L533.6,489.4 L533.6,488.4 L533.7,487.4 L533.7,486.4 L533.8,485.4 L533.8,484.4 L533.9,483.4 L533.9,482.4 L533.9,481.4 L534.0,480.4 L534.0,479.4 L534.1,478.4 L534.1,477.4 L534.2,476.4 L534.2,475.4 L534.2,474.4 L534.3,473.4 L534.3,472.4 L534.4,471.4 L534.4,470.4 L534.5,469.4 L534.5,468.4 L534.6,467.4 L534.6,466.4 L534.6,465.4 L534.7,464.4 L534.7,463.4 L534.8,462.4 L534.8,461.4 L534.9,460.4 L534.9,459.4 L535.0,458.4 L535.0,457.4 L535.1,456.4 L535.1,455.4 L535.1,454.4 L535.2,453.4 L535.2,452.4 L535.3,451.4 L535.3,450.4 L535.4,449.4 L535.4,448.4 L535.5,447.4 L535.5,446.4 L535.6,445.4 L535.6,444.4 L535.7,443.4 L535.7,442.4 L535.7,441.4 L535.8,440.4 L535.8,439.4 L535.9,438.4 L535.9,437.4 L536.0,436.4 L536.0,435.4 L536.1,434.4 L536.1,433.4 L536.2,432.4 L536.2,431.4 L536.3,430.4 L536.3,429.4 L536.4,428.4 L536.4,427.4 L536.5,426.4 L536.5,425.4 L536.6,424.4 L536.6,423.5 L536.7,422.5 L536.7,421.5 L536.8,420.5 L536.8,419.5 L536.9,418.5 L536.9,417.5 L537.0,416.5 L537.0,415.5 L537.1,414.5 L537.1,413.5 L537.2,412.5 L537.2,411.5 L537.3,410.5 L537.3,409.5 L537.4,408.5 L537.4,407.5 L537.5,406.5 L537.5,405.5 L537.6,404.5 L537.6,403.5 L537.7,402.5 L537.7,401.5 L537.8,400.5 L537.8,399.5 L537.9,398.5 L537.9,397.5 L538.0,396.5 L538.0,395.5 L538.1,394.5 L538.1,393.5 L538.2,392.5 L538.2,391.5 L538.3,390.5 L538.3,389.5 L538.4,388.5 L538.4,387.5 L538.5,386.5 L538.5,385.5 L538.6,384.5 L538.6,383.5 L538.7,382.5 L538.7,381.5 L538.8,380.5 L538.8,379.5 L538.9,378.5 L538.9,377.5 L539.0,376.5 L539.0,375.5 L539.1,374.5 L539.1,373.5 L539.2,372.5 L539.2,371.5 L539.3,370.5 L539.3,369.5 L539.4,368.5 L539.4,367.5 L539.4,366.5 L539.5,365.5 L539.5,364.5 L539.6,363.5 L539.6,362.5 L539.7,361.5 L539.7,360.5 L539.8,359.5 L539.8,358.5 L539.9,357.5 L539.9,356.5 L540.0,355.5 L540.0,354.5 L540.1,353.5 L540.1,352.5 L540.2,351.5 L540.2,350.5 L540.3,349.5 L540.3,348.5 L540.4,347.5 L540.4,346.5 L540.5,345.5 L540.6,344.5 L540.6,343.6 L540.7,342.6 L540.7,341.6 L540.8,340.6 L540.8,339.6 L540.9,338.6 L540.9,337.6 L541.0,336.6 L541.0,335.6 L541.1,334.6 L541.2,333.6 L541.2,332.6 L541.3,331.6 L541.3,330.6 L541.4,329.6 L541.4,328.6 L541.5,327.6 L541.6,326.6 L541.6,325.6 L541.7,324.6 L541.7,323.6 L541.8,322.6 L541.8,321.6 L541.9,320.6 L542.0,319.6 L542.0,318.6 L542.1,317.6 L542.2,316.6 L542.2,315.6 L542.3,314.6 L542.3,313.6 L542.4,312.6 L542.5,311.6 L542.5,310.6 L542.6,309.6 L542.7,308.6 L542.7,307.6 L542.8,306.6 L542.8,305.6 L542.9,304.6 L543.0,303.6 L543.0,302.6 L543.1,301.6 L543.2,300.6 L543.2,299.6 L543.3,298.6 L543.4,297.6 L543.5,296.6 L543.5,295.6 L543.6,294.6 L543.7,293.6 L543.7,292.6 L543.8,291.7 L543.9,290.7 L544.0,289.7 L544.0,288.7 L544.1,287.7 L544.2,286.7 L544.2,285.7 L544.3,284.7 L544.4,283.7 L544.5,282.7 L544.5,281.7 L544.6,280.7 L544.7,279.7 L544.8,278.7 L544.8,277.7 L544.9,276.7 L545.0,275.7 L545.1,274.7 L545.2,273.7 L545.2,272.7 L545.3,271.7 L545.4,270.7 L545.5,269.7 L545.5,268.7 L545.6,267.7 L545.7,266.7 L545.8,265.7 L545.8,264.7 L545.9,263.7 L546.0,262.7 L546.1,261.7 L546.1,260.7 L546.2,259.7 L546.3,258.7 L546.4,257.7 L546.4,256.7 L546.5,255.7 L546.6,254.7 L546.7,253.8 L546.8,252.8 L546.9,251.8 L547.0,250.8 L547.1,249.8 L547.2,248.8 L547.3,247.8 L547.4,246.8 L547.6,245.8 L547.7,244.8 L547.9,243.8 L548.0,242.8 L548.2,241.9 L548.3,240.9 L548.4,239.9 L548.5,238.9 L548.5,237.9 L548.6,236.9 L548.7,235.9 L548.8,234.9 L548.9,233.9 L549.1,232.9 L549.2,231.9 L549.4,230.9 L549.5,229.9 L549.7,228.9 L549.8,228.0 L550.0,227.0 L550.1,226.0 L550.2,225.0 L550.4,224.0 L550.5,223.0 L550.7,222.0 L550.9,221.0 L551.2,220.0 L551.4,219.1 L551.7,218.1 L552.0,217.2 L552.4,216.2 L552.9,215.1 L553.5,214.4 L554.1,214.5 L554.8,215.4 L555.3,216.4 L555.7,217.3 L556.0,218.3 L556.3,219.2 L556.6,220.2 L556.9,221.2 L557.1,222.2 L557.3,223.1 L557.5,224.1 L557.7,225.1 L557.9,226.1 L558.0,227.1 L558.2,228.0 L558.4,229.0 L558.6,230.0 L558.8,231.0 L558.9,232.0 L559.1,233.0 L559.3,234.0 L559.4,234.9 L559.6,235.9 L559.8,236.9 L559.9,237.9 L560.1,238.9 L560.2,239.9 L560.3,240.9 L560.5,241.9 L560.6,242.9 L560.7,243.8 L560.9,244.8 L561.0,245.8 L561.2,246.8 L561.3,247.8 L561.4,248.8 L561.6,249.8 L561.7,250.8 L561.9,251.8 L562.1,252.7 L562.2,253.7 L562.4,254.7 L562.5,255.7 L562.7,256.7 L562.8,257.7 L563.0,258.7 L563.1,259.7 L563.3,260.6 L563.5,261.6 L563.6,262.6 L563.8,263.6 L563.9,264.6 L564.1,265.6 L564.2,266.6 L564.4,267.6 L564.5,268.6 L564.7,269.5 L564.8,270.5 L565.0,271.5 L565.1,272.5 L565.3,273.5 L565.4,274.5 L565.6,275.5 L565.7,276.5 L565.9,277.5 L566.0,278.4 L566.2,279.4 L566.3,280.4 L566.5,281.4 L566.7,282.4 L566.8,283.4 L567.0,284.4 L567.1,285.4 L567.3,286.3 L567.4,287.3 L567.6,288.3 L567.8,289.3 L567.9,290.3 L568.1,291.3 L568.3,292.3 L568.4,293.3 L568.6,294.2 L568.8,295.2 L568.9,296.2 L569.1,297.2 L569.3,298.2 L569.5,299.2 L569.6,300.1 L569.8,301.1 L570.0,302.1 L570.2,303.1 L570.4,304.1 L570.6,305.0 L570.8,306.0 L571.0,307.0 L571.3,308.0 L571.5,309.0 L571.7,309.9 L571.9,310.9 L572.2,311.9 L572.4,312.9 L572.6,313.8 L572.8,314.8 L573.0,315.8 L573.2,316.8 L573.4,317.8 L573.5,318.7 L573.7,319.7 L573.8,320.7 L574.0,321.7 L574.1,322.7 L574.2,323.7 L574.3,324.7 L574.5,325.7 L574.6,326.7 L574.7,327.7 L574.8,328.6 L574.9,329.6 L575.0,330.6 L575.1,331.6 L575.2,332.6 L575.3,333.6 L575.4,334.6 L575.5,335.6 L575.6,336.6 L575.7,337.6 L575.9,338.6 L576.0,339.6 L576.1,340.6 L576.2,341.6 L576.3,342.6 L576.4,343.6 L576.5,344.6 L576.6,345.6 L576.7,346.6 L576.8,347.6 L576.9,348.5 L577.0,349.5 L577.1,350.5 L577.2,351.5 L577.3,352.5 L577.4,353.5 L577.5,354.5 L577.6,355.5 L577.7,356.5 L577.8,357.5 L577.9,358.5 L578.0,359.5 L578.1,360.5 L578.2,361.5 L578.3,362.5 L578.4,363.5 L578.4,364.5 L578.5,365.5 L578.6,366.5 L578.7,367.5 L578.7,368.5 L578.8,369.5 L578.9,370.5 L579.0,371.5 L579.0,372.5 L579.1,373.5 L579.2,374.4 L579.2,375.4 L579.3,376.4 L579.4,377.4 L579.4,378.4 L579.5,379.4 L579.5,380.4 L579.6,381.4 L579.7,382.4 L579.7,383.4 L579.8,384.4 L579.9,385.4 L579.9,386.4 L580.0,387.4 L580.0,388.4 L580.1,389.4 L580.1,390.4 L580.2,391.4 L580.2,392.4 L580.3,393.4 L580.4,394.4 L580.4,395.4 L580.5,396.4 L580.5,397.4 L580.6,398.4 L580.6,399.4 L580.7,400.4 L580.7,401.4 L580.8,402.4 L580.8,403.4 L580.8,404.4 L580.9,405.4 L580.9,406.4 L581.0,407.4 L581.0,408.4 L581.1,409.4 L581.1,410.4 L581.2,411.4 L581.2,412.4 L581.3,413.4 L581.3,414.4 L581.4,415.4 L581.4,416.4 L581.5,417.4 L581.5,418.4 L581.6,419.4 L581.6,420.4 L581.7,421.4 L581.7,422.4 L581.8,423.4 L581.8,424.4 L581.9,425.4 L581.9,426.4 L582.0,427.4 L582.0,428.4 L582.1,429.4 L582.1,430.4 L582.2,431.4 L582.2,432.4 L582.3,433.4 L582.3,434.4 L582.4,435.4 L582.4,436.4 L582.5,437.4 L582.5,438.4 L582.6,439.4 L582.6,440.4 L582.7,441.4 L582.7,442.4 L582.8,443.4 L582.8,444.4 L582.9,445.4 L582.9,446.4 L583.0,447.4 L583.0,448.3 L583.1,449.3 L583.1,450.3 L583.2,451.3 L583.2,452.3 L583.3,453.3 L583.4,454.3 L583.4,455.3 L583.5,456.3 L583.5,457.3 L583.6,458.3 L583.7,459.3 L583.7,460.3 L583.8,461.3 L583.9,462.3 L583.9,463.3 L584.0,464.3 L584.1,465.3 L584.1,466.3 L584.2,467.3 L584.3,468.3 L584.3,469.3 L584.4,470.3 L584.5,471.3 L584.6,472.3 L584.6,473.3 L584.7,474.3 L584.7,475.3 L584.8,476.3 L584.9,477.3 L584.9,478.3 L585.0,479.3 L585.0,480.3 L585.1,481.3 L585.1,482.3 L585.1,483.3 L585.2,484.3 L585.2,485.3 L585.3,486.3 L585.3,487.3 L585.4,488.3 L585.4,489.3 L585.4,490.3 L585.5,491.3 L585.5,492.3 L585.5,493.3 L585.6,494.3 L585.6,495.3 L585.6,496.3 L585.7,497.3 L585.7,498.3 L585.7,499.3 L585.8,500.3 L585.8,501.3 L585.8,502.3 L585.9,503.3 L585.9,504.3 L585.9,505.3 L586.0,506.3 L586.0,507.3 L586.0,508.3 L586.1,509.3 L586.1,510.3 L586.1,511.3 L586.1,512.3 L586.2,513.3 L586.2,514.3 L586.2,515.3 L586.3,516.3 L586.3,517.3 L586.3,518.3 L586.4,519.3 L586.4,520.3 L586.4,521.3 L586.5,522.3 L586.5,523.3 L586.5,524.3 L586.6,525.3 L586.6,526.3 L586.6,527.3 L586.7,528.3 L586.7,529.3 L586.7,530.3 L586.8,531.3 L586.8,532.3 L586.8,533.3 L586.9,534.3 L586.9,535.3 L586.9,536.3 L587.0,537.3 L587.0,538.3 L587.0,539.3 L587.1,540.3 L587.1,541.3 L587.1,542.3 L587.2,543.2 L587.2,544.2 L587.2,545.2 L587.3,546.2 L587.3,547.2 L587.3,548.2 L587.4,549.2 L587.4,550.2 L587.4,551.2 L587.5,552.2 L587.5,553.2 L587.5,554.2 L587.6,555.2 L587.6,556.2 L587.6,557.2 L587.7,558.2 L587.7,559.2 L587.7,560.2 L587.8,561.2 L587.8,562.2 L587.8,563.2 L587.9,564.2 L587.9,565.2 L587.9,566.2 L588.0,567.2 L588.0,568.2 L588.0,569.2 L588.1,570.2 L588.1,571.2 L588.1,572.2 L588.2,573.2 L588.2,574.2 L588.2,575.2 L588.3,576.2 L588.3,577.2 L588.3,578.2 L588.4,579.2 L588.4,580.2 L588.4,581.2 L588.5,582.2 L588.5,583.2 L588.5,584.2 L588.6,585.2 L588.6,586.2 L588.6,587.2 L588.7,588.2 L588.7,589.2 L588.7,590.2 L588.8,591.2 L588.8,592.2 L588.8,593.2 L588.9,594.2 L588.9,595.2 L589.0,596.2 L589.0,597.2 L589.0,598.2 L589.1,599.2 L589.1,600.2 L589.1,601.2 L589.2,602.2 L589.2,603.2 L589.3,604.2 L589.3,605.2 L589.3,606.2 L589.4,607.2 L589.4,608.2 L589.5,609.2 L589.5,610.2 L589.5,611.2 L589.6,612.2 L589.6,613.2 L589.7,614.2 L589.7,615.2 L589.8,616.2 L589.8,617.2 L589.9,618.2 L589.9,619.2 L590.0,620.2 L590.0,621.2 L590.1,622.2 L590.1,623.2 L590.2,624.2 L590.3,625.2 L590.4,626.2 L590.4,627.2 L590.5,628.2 L590.6,629.2 L590.7,630.2 L590.7,631.2 L590.8,632.2 L590.9,633.2 L591.0,634.2 L591.1,635.2 L591.1,636.2 L591.2,637.2 L591.3,638.2 L591.3,639.1 L591.4,640.1 L591.5,641.1 L591.5,642.1 L591.6,643.1 L591.6,644.1 L591.7,645.1 L591.7,646.1 L591.8,647.1 L591.8,648.1 L591.9,649.1 L591.9,650.1 L592.0,651.1 L592.0,652.1 L592.1,653.1 L592.1,654.1 L592.2,655.1 L592.2,656.1 L592.3,657.1 L592.3,658.1 L592.4,659.1 L592.4,660.1 L592.4,661.1 L592.5,662.1 L592.6,663.1 L592.6,664.1 L592.7,665.1 L592.7,666.1 L592.8,667.1 L592.8,668.1 L592.9,669.1 L593.0,670.1 L593.0,671.1 L593.1,672.1 L593.1,673.1 L593.2,674.1 L593.3,675.1 L593.3,676.1 L593.4,677.1 L593.4,678.1 L593.5,679.1 L593.6,680.1 L593.6,681.1 L593.7,682.1 L593.8,683.1 L593.8,684.1 L593.9,685.1 L593.9,686.1 L594.0,687.1 L594.1,688.1 L594.1,689.1 L594.2,690.1 L594.2,691.1 L594.3,692.1 L594.3,693.1 L594.4,694.1 L594.5,695.1 L594.5,696.1 L594.6,697.1 L594.6,698.1 L594.7,699.1 L594.7,700.1 L594.8,701.1 L594.8,702.1 L594.9,703.1 L594.9,704.0 L595.0,705.0 L595.0,706.0 L595.1,707.0 L595.1,708.0 L595.2,709.0 L595.2,710.0 L595.3,711.0 L595.3,712.0 L595.4,713.0 L595.4,714.0 L595.5,715.0 L595.5,716.0 L595.6,717.0 L595.6,718.0 L595.7,719.0 L595.7,720.0 L595.7,721.0 L595.8,722.0 L595.8,723.0 L595.9,724.0 L595.9,725.0 L596.0,726.0 L596.0,727.0 L596.1,728.0 L596.1,729.0 L596.2,730.0 L596.3,731.0 L596.3,732.0 L596.4,733.0 L596.4,734.0 L596.5,735.0 L596.6,736.0 L596.7,737.0 L596.7,738.0 L596.8,739.0 L596.9,740.0 L596.9,741.0 L597.0,742.0 L597.1,743.0 L597.2,744.0 L597.3,745.0 L597.3,746.0 L597.4,747.0 L597.5,748.0 L597.6,749.0 L597.7,750.0 L597.7,751.0 L597.8,752.0 L597.9,753.0 L598.0,754.0 L598.1,754.9 L598.2,755.9 L598.3,756.9 L598.3,757.9 L598.4,758.9 L598.5,759.9 L598.6,760.9 L598.7,761.9 L598.8,762.9 L598.9,763.9 L599.0,764.9 L599.1,765.9 L599.2,766.9 L599.3,767.9 L599.4,768.9 L599.5,769.9 L599.6,770.9 L599.7,771.9 L599.8,772.9 L599.9,773.9 L600.0,774.9 L600.1,775.8 L600.3,776.8 L600.4,777.8 L600.5,778.8 L600.6,779.8 L600.7,780.8 L600.9,781.8 L601.0,782.8 L601.1,783.8 L601.2,784.8 L601.4,785.8 L601.5,786.8 L601.7,787.8 L601.8,788.8 L601.9,789.7 L602.1,790.7 L602.3,791.7 L602.4,792.7 L602.6,793.7 L602.8,794.7 L603.0,795.6 L603.2,796.6 L603.4,797.6 L603.6,798.6 L603.8,799.6 L604.0,800.5 L604.3,801.5 L604.5,802.5 L604.8,803.4 L605.1,804.4 L605.4,805.4 L605.6,806.3 L606.0,807.3 L606.3,808.2 L606.6,809.2 L607.0,810.2 L607.3,811.1 L607.7,812.0 L608.2,812.9 L608.6,813.8 L609.2,814.6 L609.8,815.4 L610.5,816.2 L611.2,816.9 L612.0,817.5 L612.8,818.1 L613.6,818.5 L614.5,819.0 L615.5,819.4 L616.5,819.7 L617.5,819.9 L618.5,820.0 L906.9,820.0"/>
</g>
<g fill="none" stroke="#000" stroke-width="1.56" stroke-linecap="round" stroke-linejoin="round">
<rect x="123" y="123" width="814" height="724"/>
<path d="M155.45,847 H746.75 M155.45,847 v15 M352.55,847 v15 M549.65,847 v15 M746.75,847 v15"/>
<path d="M123,820.2 V172.35 M123,820.2 h-15 M123,658.24 h-15 M123,496.28 h-15 M123,334.31 h-15 M123,172.35 h-15"/>
</g>
<g fill="none" stroke-width="1.56" stroke-linecap="round">
<path stroke="#000000" d="M145.5,153 H190.5"/>
<path stroke="#FF0000" d="M145.5,183 H190.5"/>
<path stroke="#00CD00" d="M145.5,213 H190.5"/>
<path stroke="#0000FF" d="M145.5,243 H190.5"/>
<path stroke="#00FFFF" d="M145.5,273 H190.5"/>
<path stroke="#FF00FF" d="M145.5,303 H190.5"/>
<path stroke="#FFFF00" d="M145.5,333 H190.5"/>
<path stroke="#BEBEBE" d="M145.5,363 H190.5"/>
<path stroke="#FF0000" stroke-dasharray="6.25 6.25" d="M145.5,393 H190.5"/>
</g>
<g font-family="'Liberation Sans', sans-serif" font-size="25" fill="#000" style="font-kerning:none">
<text x="213.2" y="163.3">gene <tspan dx="0.4" letter-spacing="0.1">(sd=0.94)</tspan></text>
<text x="213.2" y="193.3">XUT <tspan dx="0.4" letter-spacing="0.1">(sd=1.28)</tspan></text>
<text x="213.2" y="223.3">NUT <tspan dx="0.4" letter-spacing="0.1">(sd=1.23)</tspan></text>
<text x="213.2" y="253.3">CUT <tspan dx="0.4" letter-spacing="0.1">(sd=1.3)</tspan></text>
<text x="213.2" y="283.3">SUT <tspan dx="0.4" letter-spacing="0.1">(sd=1.2)</tspan></text>
<text x="213.2" y="313.3">tRNA <tspan dx="1.2">(sd=1.22)</tspan></text>
<text x="213.2" y="343.3">snoRNA <tspan dx="1.2">(sd=0.68)</tspan></text>
<text x="213.2" y="373.3">ncRNA <tspan dx="1.2">(sd=0.98)</tspan></text>
<text x="213.2" y="403.3">snRNA <tspan dx="1.2">(sd=0.43)</tspan></text>
<text x="155.45" y="901" text-anchor="middle">-10</text>
<text x="352.55" y="901" text-anchor="middle">-5</text>
<text x="549.65" y="901" text-anchor="middle">0</text>
<text x="746.75" y="901" text-anchor="middle">5</text>
<text transform="translate(86.6,820.2) rotate(-90)" text-anchor="middle">0.0</text>
<text transform="translate(86.6,658.24) rotate(-90)" text-anchor="middle">0.2</text>
<text transform="translate(86.6,496.28) rotate(-90)" text-anchor="middle">0.4</text>
<text transform="translate(86.6,334.31) rotate(-90)" text-anchor="middle">0.6</text>
<text transform="translate(86.6,172.35) rotate(-90)" text-anchor="middle">0.8</text>
<text x="530" y="960.6" text-anchor="middle">log2 ratio</text>
<text transform="translate(27,485.6) rotate(-90)" text-anchor="middle">density</text>
<text x="530" y="73.4" text-anchor="middle" font-size="30" font-weight="bold">number read ratio dcp2_37C_Ter/WT_S288C_Ter</text>
</g>
</svg>
</body></html>
